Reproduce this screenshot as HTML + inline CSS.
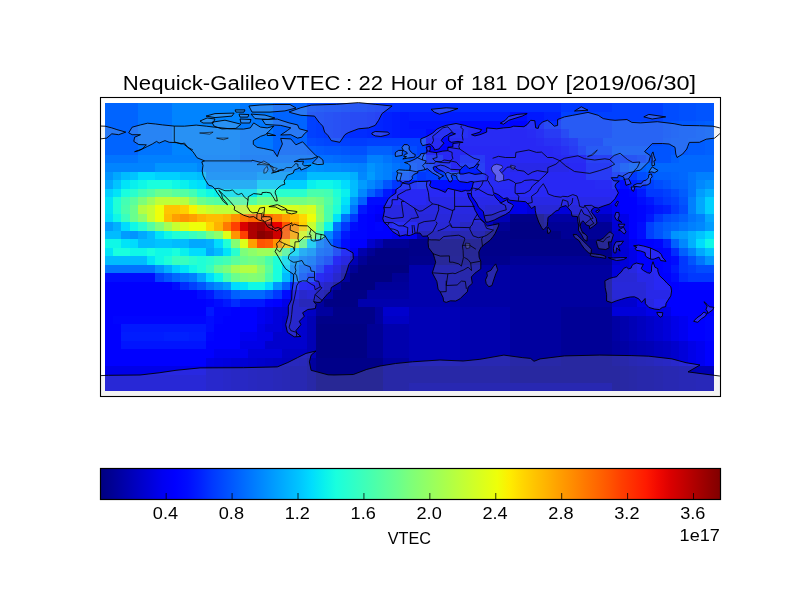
<!DOCTYPE html>
<html><head><meta charset="utf-8"><style>
html,body{margin:0;padding:0;background:#fff;width:800px;height:600px;overflow:hidden}
svg{display:block}
text{font-family:"Liberation Sans",sans-serif;fill:#000}
</style></head><body>
<div style="will-change:transform;width:800px;height:600px"><svg width="800" height="600" viewBox="0 0 800 600">
<defs><linearGradient id="jet" x1="0" y1="0" x2="1" y2="0">
<stop offset="0%" stop-color="#000080"/>
<stop offset="2%" stop-color="#000096"/>
<stop offset="4%" stop-color="#0000ad"/>
<stop offset="6%" stop-color="#0000c4"/>
<stop offset="8%" stop-color="#0000da"/>
<stop offset="10%" stop-color="#0000f1"/>
<stop offset="12%" stop-color="#0000ff"/>
<stop offset="14%" stop-color="#000cff"/>
<stop offset="16%" stop-color="#0020ff"/>
<stop offset="18%" stop-color="#0038ff"/>
<stop offset="20%" stop-color="#004cff"/>
<stop offset="22%" stop-color="#0060ff"/>
<stop offset="24%" stop-color="#0074ff"/>
<stop offset="26%" stop-color="#0088ff"/>
<stop offset="28%" stop-color="#009cff"/>
<stop offset="30%" stop-color="#00b0ff"/>
<stop offset="32%" stop-color="#00c4ff"/>
<stop offset="34%" stop-color="#00dcfe"/>
<stop offset="36%" stop-color="#09f0ee"/>
<stop offset="38%" stop-color="#19ffde"/>
<stop offset="40%" stop-color="#29ffce"/>
<stop offset="42%" stop-color="#39ffbe"/>
<stop offset="44%" stop-color="#49ffad"/>
<stop offset="46%" stop-color="#5aff9d"/>
<stop offset="48%" stop-color="#6aff8d"/>
<stop offset="50%" stop-color="#7dff7a"/>
<stop offset="52%" stop-color="#8dff6a"/>
<stop offset="54%" stop-color="#9dff5a"/>
<stop offset="56%" stop-color="#adff49"/>
<stop offset="58%" stop-color="#beff39"/>
<stop offset="60%" stop-color="#ceff29"/>
<stop offset="62%" stop-color="#deff19"/>
<stop offset="64%" stop-color="#eeff09"/>
<stop offset="66%" stop-color="#feed00"/>
<stop offset="68%" stop-color="#ffd700"/>
<stop offset="70%" stop-color="#ffc400"/>
<stop offset="72%" stop-color="#ffb200"/>
<stop offset="74%" stop-color="#ff9f00"/>
<stop offset="76%" stop-color="#ff8d00"/>
<stop offset="78%" stop-color="#ff7a00"/>
<stop offset="80%" stop-color="#ff6800"/>
<stop offset="82%" stop-color="#ff5500"/>
<stop offset="84%" stop-color="#ff3f00"/>
<stop offset="86%" stop-color="#ff2d00"/>
<stop offset="88%" stop-color="#ff1a00"/>
<stop offset="90%" stop-color="#f10800"/>
<stop offset="92%" stop-color="#da0000"/>
<stop offset="94%" stop-color="#c40000"/>
<stop offset="96%" stop-color="#ad0000"/>
<stop offset="98%" stop-color="#960000"/>
<stop offset="100%" stop-color="#800000"/>
</linearGradient>
<clipPath id="ax"><rect x="100.5" y="97.5" width="620" height="299"/></clipPath>
</defs>
<rect width="800" height="600" fill="#fff"/>
<g shape-rendering="crispEdges">
<rect x="105.00" y="103.00" width="33.43" height="9.57" fill="#0064ff"/>
<rect x="138.13" y="103.00" width="34.13" height="9.57" fill="#0074ff"/>
<rect x="171.96" y="103.00" width="67.96" height="9.57" fill="#0084ff"/>
<rect x="239.63" y="103.00" width="34.13" height="9.57" fill="#0078ff"/>
<rect x="273.46" y="103.00" width="34.13" height="9.57" fill="#0064ff"/>
<rect x="307.29" y="103.00" width="8.76" height="9.57" fill="#004cff"/>
<rect x="315.75" y="103.00" width="8.76" height="9.57" fill="#0048ff"/>
<rect x="324.21" y="103.00" width="17.22" height="9.57" fill="#0044ff"/>
<rect x="341.12" y="103.00" width="8.76" height="9.57" fill="#0040ff"/>
<rect x="349.58" y="103.00" width="17.22" height="9.57" fill="#003cff"/>
<rect x="366.50" y="103.00" width="8.76" height="9.57" fill="#0038ff"/>
<rect x="374.96" y="103.00" width="8.76" height="9.57" fill="#0034ff"/>
<rect x="383.41" y="103.00" width="17.22" height="9.57" fill="#0030ff"/>
<rect x="400.33" y="103.00" width="161.00" height="9.57" fill="#002cff"/>
<rect x="561.03" y="103.00" width="51.05" height="9.57" fill="#0038ff"/>
<rect x="611.78" y="103.00" width="51.05" height="9.57" fill="#0040ff"/>
<rect x="662.53" y="103.00" width="17.22" height="9.57" fill="#004cff"/>
<rect x="679.44" y="103.00" width="17.22" height="9.57" fill="#0050ff"/>
<rect x="696.36" y="103.00" width="17.64" height="9.57" fill="#0054ff"/>
<rect x="105.00" y="112.27" width="33.43" height="8.77" fill="#0064ff"/>
<rect x="138.13" y="112.27" width="34.13" height="8.77" fill="#0074ff"/>
<rect x="171.96" y="112.27" width="67.96" height="8.77" fill="#0084ff"/>
<rect x="239.63" y="112.27" width="34.13" height="8.77" fill="#0078ff"/>
<rect x="273.46" y="112.27" width="34.13" height="8.77" fill="#0064ff"/>
<rect x="307.29" y="112.27" width="8.76" height="8.77" fill="#0040ff"/>
<rect x="315.75" y="112.27" width="8.76" height="8.77" fill="#003cff"/>
<rect x="324.21" y="112.27" width="8.76" height="8.77" fill="#0038ff"/>
<rect x="332.67" y="112.27" width="8.76" height="8.77" fill="#0034ff"/>
<rect x="341.12" y="112.27" width="8.76" height="8.77" fill="#0030ff"/>
<rect x="349.58" y="112.27" width="17.22" height="8.77" fill="#002cff"/>
<rect x="366.50" y="112.27" width="8.76" height="8.77" fill="#0028ff"/>
<rect x="374.96" y="112.27" width="8.76" height="8.77" fill="#0024ff"/>
<rect x="383.41" y="112.27" width="8.76" height="8.77" fill="#0020ff"/>
<rect x="391.87" y="112.27" width="8.76" height="8.77" fill="#001cff"/>
<rect x="400.33" y="112.27" width="8.76" height="8.77" fill="#0018ff"/>
<rect x="408.79" y="112.27" width="101.80" height="8.77" fill="#001cff"/>
<rect x="510.28" y="112.27" width="17.22" height="8.77" fill="#000cff"/>
<rect x="527.20" y="112.27" width="17.22" height="8.77" fill="#0018ff"/>
<rect x="544.12" y="112.27" width="17.22" height="8.77" fill="#0020ff"/>
<rect x="561.03" y="112.27" width="101.80" height="8.77" fill="#0040ff"/>
<rect x="662.53" y="112.27" width="17.22" height="8.77" fill="#004cff"/>
<rect x="679.44" y="112.27" width="17.22" height="8.77" fill="#0050ff"/>
<rect x="696.36" y="112.27" width="17.64" height="8.77" fill="#0054ff"/>
<rect x="105.00" y="120.74" width="33.43" height="8.77" fill="#0064ff"/>
<rect x="138.13" y="120.74" width="34.13" height="8.77" fill="#0074ff"/>
<rect x="171.96" y="120.74" width="67.96" height="8.77" fill="#0084ff"/>
<rect x="239.63" y="120.74" width="34.13" height="8.77" fill="#0078ff"/>
<rect x="273.46" y="120.74" width="34.13" height="8.77" fill="#0064ff"/>
<rect x="307.29" y="120.74" width="8.76" height="8.77" fill="#0040ff"/>
<rect x="315.75" y="120.74" width="8.76" height="8.77" fill="#003cff"/>
<rect x="324.21" y="120.74" width="8.76" height="8.77" fill="#0038ff"/>
<rect x="332.67" y="120.74" width="8.76" height="8.77" fill="#0034ff"/>
<rect x="341.12" y="120.74" width="8.76" height="8.77" fill="#0030ff"/>
<rect x="349.58" y="120.74" width="17.22" height="8.77" fill="#002cff"/>
<rect x="366.50" y="120.74" width="8.76" height="8.77" fill="#0028ff"/>
<rect x="374.96" y="120.74" width="8.76" height="8.77" fill="#0024ff"/>
<rect x="383.41" y="120.74" width="8.76" height="8.77" fill="#0020ff"/>
<rect x="391.87" y="120.74" width="8.76" height="8.77" fill="#001cff"/>
<rect x="400.33" y="120.74" width="8.76" height="8.77" fill="#0018ff"/>
<rect x="408.79" y="120.74" width="51.05" height="8.77" fill="#0014ff"/>
<rect x="459.54" y="120.74" width="51.05" height="8.77" fill="#0008ff"/>
<rect x="510.28" y="120.74" width="17.22" height="8.77" fill="#0004ff"/>
<rect x="527.20" y="120.74" width="8.76" height="8.77" fill="#000cff"/>
<rect x="535.66" y="120.74" width="8.76" height="8.77" fill="#0018ff"/>
<rect x="544.12" y="120.74" width="17.22" height="8.77" fill="#002cff"/>
<rect x="561.03" y="120.74" width="51.05" height="8.77" fill="#0040ff"/>
<rect x="611.78" y="120.74" width="51.05" height="8.77" fill="#004cff"/>
<rect x="662.53" y="120.74" width="8.76" height="8.77" fill="#0050ff"/>
<rect x="670.99" y="120.74" width="8.76" height="8.77" fill="#0054ff"/>
<rect x="679.44" y="120.74" width="17.22" height="8.77" fill="#0058ff"/>
<rect x="696.36" y="120.74" width="8.76" height="8.77" fill="#005cff"/>
<rect x="704.82" y="120.74" width="9.18" height="8.77" fill="#0060ff"/>
<rect x="105.00" y="129.21" width="33.43" height="8.77" fill="#0064ff"/>
<rect x="138.13" y="129.21" width="34.13" height="8.77" fill="#0074ff"/>
<rect x="171.96" y="129.21" width="67.96" height="8.77" fill="#0084ff"/>
<rect x="239.63" y="129.21" width="34.13" height="8.77" fill="#0078ff"/>
<rect x="273.46" y="129.21" width="34.13" height="8.77" fill="#0064ff"/>
<rect x="307.29" y="129.21" width="8.76" height="8.77" fill="#0040ff"/>
<rect x="315.75" y="129.21" width="8.76" height="8.77" fill="#003cff"/>
<rect x="324.21" y="129.21" width="8.76" height="8.77" fill="#0038ff"/>
<rect x="332.67" y="129.21" width="8.76" height="8.77" fill="#0034ff"/>
<rect x="341.12" y="129.21" width="8.76" height="8.77" fill="#0030ff"/>
<rect x="349.58" y="129.21" width="17.22" height="8.77" fill="#002cff"/>
<rect x="366.50" y="129.21" width="8.76" height="8.77" fill="#0028ff"/>
<rect x="374.96" y="129.21" width="8.76" height="8.77" fill="#0024ff"/>
<rect x="383.41" y="129.21" width="8.76" height="8.77" fill="#0020ff"/>
<rect x="391.87" y="129.21" width="8.76" height="8.77" fill="#001cff"/>
<rect x="400.33" y="129.21" width="25.67" height="8.77" fill="#0018ff"/>
<rect x="425.70" y="129.21" width="42.59" height="8.77" fill="#000cff"/>
<rect x="467.99" y="129.21" width="42.59" height="8.77" fill="#0004ff"/>
<rect x="510.28" y="129.21" width="17.22" height="8.77" fill="#0000ff"/>
<rect x="527.20" y="129.21" width="8.76" height="8.77" fill="#0004ff"/>
<rect x="535.66" y="129.21" width="8.76" height="8.77" fill="#000cff"/>
<rect x="544.12" y="129.21" width="17.22" height="8.77" fill="#0018ff"/>
<rect x="561.03" y="129.21" width="8.76" height="8.77" fill="#002cff"/>
<rect x="569.49" y="129.21" width="42.59" height="8.77" fill="#0040ff"/>
<rect x="611.78" y="129.21" width="51.05" height="8.77" fill="#004cff"/>
<rect x="662.53" y="129.21" width="8.76" height="8.77" fill="#0050ff"/>
<rect x="670.99" y="129.21" width="8.76" height="8.77" fill="#0054ff"/>
<rect x="679.44" y="129.21" width="17.22" height="8.77" fill="#0058ff"/>
<rect x="696.36" y="129.21" width="8.76" height="8.77" fill="#005cff"/>
<rect x="704.82" y="129.21" width="9.18" height="8.77" fill="#0060ff"/>
<rect x="105.00" y="137.68" width="33.43" height="8.77" fill="#0064ff"/>
<rect x="138.13" y="137.68" width="34.13" height="8.77" fill="#0074ff"/>
<rect x="171.96" y="137.68" width="67.96" height="8.77" fill="#0084ff"/>
<rect x="239.63" y="137.68" width="34.13" height="8.77" fill="#0078ff"/>
<rect x="273.46" y="137.68" width="34.13" height="8.77" fill="#0064ff"/>
<rect x="307.29" y="137.68" width="8.76" height="8.77" fill="#004cff"/>
<rect x="315.75" y="137.68" width="8.76" height="8.77" fill="#0048ff"/>
<rect x="324.21" y="137.68" width="17.22" height="8.77" fill="#0044ff"/>
<rect x="341.12" y="137.68" width="8.76" height="8.77" fill="#0040ff"/>
<rect x="349.58" y="137.68" width="17.22" height="8.77" fill="#003cff"/>
<rect x="366.50" y="137.68" width="59.51" height="8.77" fill="#0040ff"/>
<rect x="425.70" y="137.68" width="84.88" height="8.77" fill="#0004ff"/>
<rect x="510.28" y="137.68" width="25.67" height="8.77" fill="#0000ff"/>
<rect x="535.66" y="137.68" width="8.76" height="8.77" fill="#0004ff"/>
<rect x="544.12" y="137.68" width="17.22" height="8.77" fill="#000cff"/>
<rect x="561.03" y="137.68" width="8.76" height="8.77" fill="#0018ff"/>
<rect x="569.49" y="137.68" width="8.76" height="8.77" fill="#0020ff"/>
<rect x="577.95" y="137.68" width="25.67" height="8.77" fill="#0038ff"/>
<rect x="603.32" y="137.68" width="59.51" height="8.77" fill="#004cff"/>
<rect x="662.53" y="137.68" width="8.76" height="8.77" fill="#0054ff"/>
<rect x="670.99" y="137.68" width="17.22" height="8.77" fill="#0058ff"/>
<rect x="687.90" y="137.68" width="17.22" height="8.77" fill="#005cff"/>
<rect x="704.82" y="137.68" width="9.18" height="8.77" fill="#0060ff"/>
<rect x="105.00" y="146.15" width="33.43" height="8.77" fill="#0064ff"/>
<rect x="138.13" y="146.15" width="34.13" height="8.77" fill="#0074ff"/>
<rect x="171.96" y="146.15" width="67.96" height="8.77" fill="#0084ff"/>
<rect x="239.63" y="146.15" width="34.13" height="8.77" fill="#0078ff"/>
<rect x="273.46" y="146.15" width="34.13" height="8.77" fill="#0064ff"/>
<rect x="307.29" y="146.15" width="8.76" height="8.77" fill="#0060ff"/>
<rect x="315.75" y="146.15" width="8.76" height="8.77" fill="#005cff"/>
<rect x="324.21" y="146.15" width="17.22" height="8.77" fill="#0058ff"/>
<rect x="341.12" y="146.15" width="8.76" height="8.77" fill="#0054ff"/>
<rect x="349.58" y="146.15" width="17.22" height="8.77" fill="#0050ff"/>
<rect x="366.50" y="146.15" width="25.67" height="8.77" fill="#0060ff"/>
<rect x="391.87" y="146.15" width="17.22" height="8.77" fill="#0054ff"/>
<rect x="408.79" y="146.15" width="8.76" height="8.77" fill="#004cff"/>
<rect x="417.25" y="146.15" width="8.76" height="8.77" fill="#0040ff"/>
<rect x="425.70" y="146.15" width="127.17" height="8.77" fill="#0000ff"/>
<rect x="552.57" y="146.15" width="8.76" height="8.77" fill="#0004ff"/>
<rect x="561.03" y="146.15" width="8.76" height="8.77" fill="#000cff"/>
<rect x="569.49" y="146.15" width="8.76" height="8.77" fill="#0018ff"/>
<rect x="577.95" y="146.15" width="8.76" height="8.77" fill="#002cff"/>
<rect x="586.41" y="146.15" width="25.67" height="8.77" fill="#0040ff"/>
<rect x="611.78" y="146.15" width="59.51" height="8.77" fill="#0054ff"/>
<rect x="670.99" y="146.15" width="17.22" height="8.77" fill="#0058ff"/>
<rect x="687.90" y="146.15" width="17.22" height="8.77" fill="#005cff"/>
<rect x="704.82" y="146.15" width="9.18" height="8.77" fill="#0060ff"/>
<rect x="105.00" y="154.62" width="33.43" height="8.77" fill="#0074ff"/>
<rect x="138.13" y="154.62" width="101.80" height="8.77" fill="#0080ff"/>
<rect x="239.63" y="154.62" width="76.42" height="8.77" fill="#0074ff"/>
<rect x="315.75" y="154.62" width="17.22" height="8.77" fill="#0070ff"/>
<rect x="332.67" y="154.62" width="8.76" height="8.77" fill="#006cff"/>
<rect x="341.12" y="154.62" width="8.76" height="8.77" fill="#0068ff"/>
<rect x="349.58" y="154.62" width="17.22" height="8.77" fill="#0064ff"/>
<rect x="366.50" y="154.62" width="17.22" height="8.77" fill="#0080ff"/>
<rect x="383.41" y="154.62" width="8.76" height="8.77" fill="#0074ff"/>
<rect x="391.87" y="154.62" width="8.76" height="8.77" fill="#0068ff"/>
<rect x="400.33" y="154.62" width="8.76" height="8.77" fill="#0060ff"/>
<rect x="408.79" y="154.62" width="17.22" height="8.77" fill="#004cff"/>
<rect x="425.70" y="154.62" width="17.22" height="8.77" fill="#0020ff"/>
<rect x="442.62" y="154.62" width="17.22" height="8.77" fill="#0000ff"/>
<rect x="459.54" y="154.62" width="25.67" height="8.77" fill="#0018ff"/>
<rect x="484.91" y="154.62" width="76.42" height="8.77" fill="#0000ff"/>
<rect x="561.03" y="154.62" width="25.67" height="8.77" fill="#0004ff"/>
<rect x="586.41" y="154.62" width="25.67" height="8.77" fill="#0020ff"/>
<rect x="611.78" y="154.62" width="25.67" height="8.77" fill="#0038ff"/>
<rect x="637.15" y="154.62" width="8.76" height="8.77" fill="#0040ff"/>
<rect x="645.61" y="154.62" width="8.76" height="8.77" fill="#004cff"/>
<rect x="654.07" y="154.62" width="17.22" height="8.77" fill="#0054ff"/>
<rect x="670.99" y="154.62" width="8.76" height="8.77" fill="#0060ff"/>
<rect x="679.44" y="154.62" width="34.56" height="8.77" fill="#0068ff"/>
<rect x="105.00" y="163.09" width="50.35" height="8.77" fill="#0084ff"/>
<rect x="155.05" y="163.09" width="42.59" height="8.77" fill="#0094ff"/>
<rect x="197.34" y="163.09" width="8.76" height="8.77" fill="#0088ff"/>
<rect x="205.80" y="163.09" width="101.80" height="8.77" fill="#0084ff"/>
<rect x="307.29" y="163.09" width="8.76" height="8.77" fill="#0094ff"/>
<rect x="315.75" y="163.09" width="8.76" height="8.77" fill="#0090ff"/>
<rect x="324.21" y="163.09" width="17.22" height="8.77" fill="#008cff"/>
<rect x="341.12" y="163.09" width="8.76" height="8.77" fill="#0088ff"/>
<rect x="349.58" y="163.09" width="8.76" height="8.77" fill="#0084ff"/>
<rect x="358.04" y="163.09" width="8.76" height="8.77" fill="#0080ff"/>
<rect x="366.50" y="163.09" width="8.76" height="8.77" fill="#0094ff"/>
<rect x="374.96" y="163.09" width="8.76" height="8.77" fill="#0088ff"/>
<rect x="383.41" y="163.09" width="8.76" height="8.77" fill="#0080ff"/>
<rect x="391.87" y="163.09" width="8.76" height="8.77" fill="#0074ff"/>
<rect x="400.33" y="163.09" width="8.76" height="8.77" fill="#0068ff"/>
<rect x="408.79" y="163.09" width="8.76" height="8.77" fill="#0054ff"/>
<rect x="417.25" y="163.09" width="8.76" height="8.77" fill="#004cff"/>
<rect x="425.70" y="163.09" width="8.76" height="8.77" fill="#0038ff"/>
<rect x="434.16" y="163.09" width="17.22" height="8.77" fill="#0018ff"/>
<rect x="451.08" y="163.09" width="8.76" height="8.77" fill="#0000ff"/>
<rect x="459.54" y="163.09" width="25.67" height="8.77" fill="#0020ff"/>
<rect x="484.91" y="163.09" width="25.67" height="8.77" fill="#0000ff"/>
<rect x="510.28" y="163.09" width="59.51" height="8.77" fill="#0000f1"/>
<rect x="569.49" y="163.09" width="17.22" height="8.77" fill="#0000ff"/>
<rect x="586.41" y="163.09" width="25.67" height="8.77" fill="#0018ff"/>
<rect x="611.78" y="163.09" width="8.76" height="8.77" fill="#0040ff"/>
<rect x="620.24" y="163.09" width="8.76" height="8.77" fill="#0054ff"/>
<rect x="628.70" y="163.09" width="17.22" height="8.77" fill="#0060ff"/>
<rect x="645.61" y="163.09" width="68.39" height="8.77" fill="#0068ff"/>
<rect x="105.00" y="171.56" width="8.06" height="8.77" fill="#0094ff"/>
<rect x="112.76" y="171.56" width="8.76" height="8.77" fill="#00a8ff"/>
<rect x="121.22" y="171.56" width="8.76" height="8.77" fill="#00bcff"/>
<rect x="129.67" y="171.56" width="8.76" height="8.77" fill="#00c4ff"/>
<rect x="138.13" y="171.56" width="17.22" height="8.77" fill="#00dcfe"/>
<rect x="155.05" y="171.56" width="25.67" height="8.77" fill="#00d0ff"/>
<rect x="180.42" y="171.56" width="17.22" height="8.77" fill="#00c4ff"/>
<rect x="197.34" y="171.56" width="8.76" height="8.77" fill="#00bcff"/>
<rect x="205.80" y="171.56" width="51.05" height="8.77" fill="#008cff"/>
<rect x="256.54" y="171.56" width="51.05" height="8.77" fill="#009cff"/>
<rect x="307.29" y="171.56" width="42.59" height="8.77" fill="#00bcff"/>
<rect x="349.58" y="171.56" width="8.76" height="8.77" fill="#00b0ff"/>
<rect x="358.04" y="171.56" width="8.76" height="8.77" fill="#0088ff"/>
<rect x="366.50" y="171.56" width="8.76" height="8.77" fill="#009cff"/>
<rect x="374.96" y="171.56" width="8.76" height="8.77" fill="#0088ff"/>
<rect x="383.41" y="171.56" width="8.76" height="8.77" fill="#0080ff"/>
<rect x="391.87" y="171.56" width="8.76" height="8.77" fill="#0068ff"/>
<rect x="400.33" y="171.56" width="8.76" height="8.77" fill="#0054ff"/>
<rect x="408.79" y="171.56" width="8.76" height="8.77" fill="#004cff"/>
<rect x="417.25" y="171.56" width="8.76" height="8.77" fill="#0038ff"/>
<rect x="425.70" y="171.56" width="34.13" height="8.77" fill="#0040ff"/>
<rect x="459.54" y="171.56" width="25.67" height="8.77" fill="#0018ff"/>
<rect x="484.91" y="171.56" width="101.80" height="8.77" fill="#0000ff"/>
<rect x="586.41" y="171.56" width="25.67" height="8.77" fill="#0018ff"/>
<rect x="611.78" y="171.56" width="8.76" height="8.77" fill="#002cff"/>
<rect x="620.24" y="171.56" width="17.22" height="8.77" fill="#0038ff"/>
<rect x="637.15" y="171.56" width="8.76" height="8.77" fill="#004cff"/>
<rect x="645.61" y="171.56" width="8.76" height="8.77" fill="#0054ff"/>
<rect x="654.07" y="171.56" width="17.22" height="8.77" fill="#0060ff"/>
<rect x="670.99" y="171.56" width="8.76" height="8.77" fill="#0064ff"/>
<rect x="679.44" y="171.56" width="8.76" height="8.77" fill="#0068ff"/>
<rect x="687.90" y="171.56" width="8.76" height="8.77" fill="#0074ff"/>
<rect x="696.36" y="171.56" width="17.64" height="8.77" fill="#0080ff"/>
<rect x="105.00" y="180.03" width="8.06" height="8.77" fill="#00a8ff"/>
<rect x="112.76" y="180.03" width="8.76" height="8.77" fill="#00c4ff"/>
<rect x="121.22" y="180.03" width="8.76" height="8.77" fill="#00e4f8"/>
<rect x="129.67" y="180.03" width="8.76" height="8.77" fill="#09f0ee"/>
<rect x="138.13" y="180.03" width="8.76" height="8.77" fill="#0ff8e7"/>
<rect x="146.59" y="180.03" width="25.67" height="8.77" fill="#19ffde"/>
<rect x="171.96" y="180.03" width="8.76" height="8.77" fill="#0ff8e7"/>
<rect x="180.42" y="180.03" width="8.76" height="8.77" fill="#09f0ee"/>
<rect x="188.88" y="180.03" width="8.76" height="8.77" fill="#00e4f8"/>
<rect x="197.34" y="180.03" width="8.76" height="8.77" fill="#00dcfe"/>
<rect x="205.80" y="180.03" width="51.05" height="8.77" fill="#00a8ff"/>
<rect x="256.54" y="180.03" width="51.05" height="8.77" fill="#00d0ff"/>
<rect x="307.29" y="180.03" width="8.76" height="8.77" fill="#09f0ee"/>
<rect x="315.75" y="180.03" width="17.22" height="8.77" fill="#0ff8e7"/>
<rect x="332.67" y="180.03" width="8.76" height="8.77" fill="#09f0ee"/>
<rect x="341.12" y="180.03" width="8.76" height="8.77" fill="#00dcfe"/>
<rect x="349.58" y="180.03" width="8.76" height="8.77" fill="#00bcff"/>
<rect x="358.04" y="180.03" width="8.76" height="8.77" fill="#009cff"/>
<rect x="366.50" y="180.03" width="8.76" height="8.77" fill="#0088ff"/>
<rect x="374.96" y="180.03" width="8.76" height="8.77" fill="#0074ff"/>
<rect x="383.41" y="180.03" width="8.76" height="8.77" fill="#0054ff"/>
<rect x="391.87" y="180.03" width="8.76" height="8.77" fill="#0038ff"/>
<rect x="400.33" y="180.03" width="17.22" height="8.77" fill="#0018ff"/>
<rect x="417.25" y="180.03" width="8.76" height="8.77" fill="#0020ff"/>
<rect x="425.70" y="180.03" width="51.05" height="8.77" fill="#000cff"/>
<rect x="476.45" y="180.03" width="34.13" height="8.77" fill="#0004ff"/>
<rect x="510.28" y="180.03" width="84.88" height="8.77" fill="#0000ff"/>
<rect x="594.86" y="180.03" width="17.22" height="8.77" fill="#0004ff"/>
<rect x="611.78" y="180.03" width="8.76" height="8.77" fill="#0018ff"/>
<rect x="620.24" y="180.03" width="8.76" height="8.77" fill="#000cff"/>
<rect x="628.70" y="180.03" width="8.76" height="8.77" fill="#0020ff"/>
<rect x="637.15" y="180.03" width="8.76" height="8.77" fill="#002cff"/>
<rect x="645.61" y="180.03" width="8.76" height="8.77" fill="#0040ff"/>
<rect x="654.07" y="180.03" width="8.76" height="8.77" fill="#004cff"/>
<rect x="662.53" y="180.03" width="8.76" height="8.77" fill="#0054ff"/>
<rect x="670.99" y="180.03" width="8.76" height="8.77" fill="#0060ff"/>
<rect x="679.44" y="180.03" width="8.76" height="8.77" fill="#0064ff"/>
<rect x="687.90" y="180.03" width="8.76" height="8.77" fill="#0074ff"/>
<rect x="696.36" y="180.03" width="8.76" height="8.77" fill="#0088ff"/>
<rect x="704.82" y="180.03" width="9.18" height="8.77" fill="#0094ff"/>
<rect x="105.00" y="188.50" width="8.06" height="8.77" fill="#00d0ff"/>
<rect x="112.76" y="188.50" width="8.76" height="8.77" fill="#00e4f8"/>
<rect x="121.22" y="188.50" width="8.76" height="8.77" fill="#19ffde"/>
<rect x="129.67" y="188.50" width="8.76" height="8.77" fill="#29ffce"/>
<rect x="138.13" y="188.50" width="8.76" height="8.77" fill="#43ffb4"/>
<rect x="146.59" y="188.50" width="8.76" height="8.77" fill="#53ffa4"/>
<rect x="155.05" y="188.50" width="17.22" height="8.77" fill="#6aff8d"/>
<rect x="171.96" y="188.50" width="8.76" height="8.77" fill="#5aff9d"/>
<rect x="180.42" y="188.50" width="8.76" height="8.77" fill="#53ffa4"/>
<rect x="188.88" y="188.50" width="8.76" height="8.77" fill="#43ffb4"/>
<rect x="197.34" y="188.50" width="8.76" height="8.77" fill="#1fffd7"/>
<rect x="205.80" y="188.50" width="8.76" height="8.77" fill="#0ff8e7"/>
<rect x="214.25" y="188.50" width="8.76" height="8.77" fill="#09f0ee"/>
<rect x="222.71" y="188.50" width="34.13" height="8.77" fill="#00e4f8"/>
<rect x="256.54" y="188.50" width="51.05" height="8.77" fill="#29ffce"/>
<rect x="307.29" y="188.50" width="17.22" height="8.77" fill="#49ffad"/>
<rect x="324.21" y="188.50" width="8.76" height="8.77" fill="#43ffb4"/>
<rect x="332.67" y="188.50" width="8.76" height="8.77" fill="#1fffd7"/>
<rect x="341.12" y="188.50" width="8.76" height="8.77" fill="#09f0ee"/>
<rect x="349.58" y="188.50" width="8.76" height="8.77" fill="#00bcff"/>
<rect x="358.04" y="188.50" width="8.76" height="8.77" fill="#0088ff"/>
<rect x="366.50" y="188.50" width="8.76" height="8.77" fill="#0060ff"/>
<rect x="374.96" y="188.50" width="8.76" height="8.77" fill="#0040ff"/>
<rect x="383.41" y="188.50" width="8.76" height="8.77" fill="#0018ff"/>
<rect x="391.87" y="188.50" width="8.76" height="8.77" fill="#0004ff"/>
<rect x="400.33" y="188.50" width="228.67" height="8.77" fill="#0000ff"/>
<rect x="628.70" y="188.50" width="8.76" height="8.77" fill="#0004ff"/>
<rect x="637.15" y="188.50" width="8.76" height="8.77" fill="#0018ff"/>
<rect x="645.61" y="188.50" width="17.22" height="8.77" fill="#0038ff"/>
<rect x="662.53" y="188.50" width="8.76" height="8.77" fill="#0040ff"/>
<rect x="670.99" y="188.50" width="8.76" height="8.77" fill="#004cff"/>
<rect x="679.44" y="188.50" width="8.76" height="8.77" fill="#005cff"/>
<rect x="687.90" y="188.50" width="8.76" height="8.77" fill="#0074ff"/>
<rect x="696.36" y="188.50" width="8.76" height="8.77" fill="#009cff"/>
<rect x="704.82" y="188.50" width="9.18" height="8.77" fill="#00b0ff"/>
<rect x="105.00" y="196.97" width="8.06" height="8.77" fill="#00e4f8"/>
<rect x="112.76" y="196.97" width="8.76" height="8.77" fill="#1fffd7"/>
<rect x="121.22" y="196.97" width="8.76" height="8.77" fill="#43ffb4"/>
<rect x="129.67" y="196.97" width="8.76" height="8.77" fill="#5aff9d"/>
<rect x="138.13" y="196.97" width="8.76" height="8.77" fill="#7dff7a"/>
<rect x="146.59" y="196.97" width="8.76" height="8.77" fill="#9dff5a"/>
<rect x="155.05" y="196.97" width="25.67" height="8.77" fill="#beff39"/>
<rect x="180.42" y="196.97" width="8.76" height="8.77" fill="#b4ff43"/>
<rect x="188.88" y="196.97" width="8.76" height="8.77" fill="#8dff6a"/>
<rect x="197.34" y="196.97" width="8.76" height="8.77" fill="#6aff8d"/>
<rect x="205.80" y="196.97" width="8.76" height="8.77" fill="#5aff9d"/>
<rect x="214.25" y="196.97" width="8.76" height="8.77" fill="#53ffa4"/>
<rect x="222.71" y="196.97" width="8.76" height="8.77" fill="#49ffad"/>
<rect x="231.17" y="196.97" width="25.67" height="8.77" fill="#53ffa4"/>
<rect x="256.54" y="196.97" width="51.05" height="8.77" fill="#73ff83"/>
<rect x="307.29" y="196.97" width="8.76" height="8.77" fill="#7dff7a"/>
<rect x="315.75" y="196.97" width="8.76" height="8.77" fill="#73ff83"/>
<rect x="324.21" y="196.97" width="8.76" height="8.77" fill="#53ffa4"/>
<rect x="332.67" y="196.97" width="8.76" height="8.77" fill="#29ffce"/>
<rect x="341.12" y="196.97" width="8.76" height="8.77" fill="#00e4f8"/>
<rect x="349.58" y="196.97" width="8.76" height="8.77" fill="#0094ff"/>
<rect x="358.04" y="196.97" width="8.76" height="8.77" fill="#0060ff"/>
<rect x="366.50" y="196.97" width="25.67" height="8.77" fill="#000cff"/>
<rect x="391.87" y="196.97" width="34.13" height="8.77" fill="#0000ff"/>
<rect x="425.70" y="196.97" width="84.88" height="8.77" fill="#0000f1"/>
<rect x="510.28" y="196.97" width="51.05" height="8.77" fill="#0000ed"/>
<rect x="561.03" y="196.97" width="51.05" height="8.77" fill="#0000f1"/>
<rect x="611.78" y="196.97" width="25.67" height="8.77" fill="#0000ff"/>
<rect x="637.15" y="196.97" width="8.76" height="8.77" fill="#000cff"/>
<rect x="645.61" y="196.97" width="8.76" height="8.77" fill="#0018ff"/>
<rect x="654.07" y="196.97" width="8.76" height="8.77" fill="#002cff"/>
<rect x="662.53" y="196.97" width="8.76" height="8.77" fill="#0038ff"/>
<rect x="670.99" y="196.97" width="8.76" height="8.77" fill="#0040ff"/>
<rect x="679.44" y="196.97" width="8.76" height="8.77" fill="#0054ff"/>
<rect x="687.90" y="196.97" width="8.76" height="8.77" fill="#0080ff"/>
<rect x="696.36" y="196.97" width="8.76" height="8.77" fill="#00a8ff"/>
<rect x="704.82" y="196.97" width="9.18" height="8.77" fill="#00d0ff"/>
<rect x="105.00" y="205.44" width="8.06" height="8.77" fill="#00e4f8"/>
<rect x="112.76" y="205.44" width="8.76" height="8.77" fill="#1fffd7"/>
<rect x="121.22" y="205.44" width="8.76" height="8.77" fill="#49ffad"/>
<rect x="129.67" y="205.44" width="8.76" height="8.77" fill="#6aff8d"/>
<rect x="138.13" y="205.44" width="8.76" height="8.77" fill="#b4ff43"/>
<rect x="146.59" y="205.44" width="8.76" height="8.77" fill="#c7ff30"/>
<rect x="155.05" y="205.44" width="8.76" height="8.77" fill="#eeff09"/>
<rect x="163.51" y="205.44" width="17.22" height="8.77" fill="#ffc400"/>
<rect x="180.42" y="205.44" width="8.76" height="8.77" fill="#ffd000"/>
<rect x="188.88" y="205.44" width="8.76" height="8.77" fill="#f8f500"/>
<rect x="197.34" y="205.44" width="8.76" height="8.77" fill="#d7ff1f"/>
<rect x="205.80" y="205.44" width="8.76" height="8.77" fill="#c7ff30"/>
<rect x="214.25" y="205.44" width="25.67" height="8.77" fill="#beff39"/>
<rect x="239.63" y="205.44" width="8.76" height="8.77" fill="#c7ff30"/>
<rect x="248.09" y="205.44" width="8.76" height="8.77" fill="#d7ff1f"/>
<rect x="256.54" y="205.44" width="25.67" height="8.77" fill="#deff19"/>
<rect x="281.92" y="205.44" width="17.22" height="8.77" fill="#d7ff1f"/>
<rect x="298.83" y="205.44" width="8.76" height="8.77" fill="#ceff29"/>
<rect x="307.29" y="205.44" width="8.76" height="8.77" fill="#d7ff1f"/>
<rect x="315.75" y="205.44" width="8.76" height="8.77" fill="#8dff6a"/>
<rect x="324.21" y="205.44" width="8.76" height="8.77" fill="#49ffad"/>
<rect x="332.67" y="205.44" width="8.76" height="8.77" fill="#1fffd7"/>
<rect x="341.12" y="205.44" width="8.76" height="8.77" fill="#00d0ff"/>
<rect x="349.58" y="205.44" width="8.76" height="8.77" fill="#0074ff"/>
<rect x="358.04" y="205.44" width="8.76" height="8.77" fill="#0018ff"/>
<rect x="366.50" y="205.44" width="8.76" height="8.77" fill="#0004ff"/>
<rect x="374.96" y="205.44" width="8.76" height="8.77" fill="#0000ff"/>
<rect x="383.41" y="205.44" width="101.80" height="8.77" fill="#0000e8"/>
<rect x="484.91" y="205.44" width="25.67" height="8.77" fill="#0000da"/>
<rect x="510.28" y="205.44" width="17.22" height="8.77" fill="#0000e8"/>
<rect x="527.20" y="205.44" width="84.88" height="8.77" fill="#0000da"/>
<rect x="611.78" y="205.44" width="8.76" height="8.77" fill="#0000f1"/>
<rect x="620.24" y="205.44" width="17.22" height="8.77" fill="#0000ff"/>
<rect x="637.15" y="205.44" width="8.76" height="8.77" fill="#0004ff"/>
<rect x="645.61" y="205.44" width="8.76" height="8.77" fill="#000cff"/>
<rect x="654.07" y="205.44" width="8.76" height="8.77" fill="#0018ff"/>
<rect x="662.53" y="205.44" width="8.76" height="8.77" fill="#0020ff"/>
<rect x="670.99" y="205.44" width="8.76" height="8.77" fill="#0038ff"/>
<rect x="679.44" y="205.44" width="8.76" height="8.77" fill="#004cff"/>
<rect x="687.90" y="205.44" width="8.76" height="8.77" fill="#0080ff"/>
<rect x="696.36" y="205.44" width="8.76" height="8.77" fill="#00a8ff"/>
<rect x="704.82" y="205.44" width="9.18" height="8.77" fill="#00d0ff"/>
<rect x="105.00" y="213.91" width="8.06" height="8.77" fill="#00dcfe"/>
<rect x="112.76" y="213.91" width="8.76" height="8.77" fill="#0ff8e7"/>
<rect x="121.22" y="213.91" width="8.76" height="8.77" fill="#39ffbe"/>
<rect x="129.67" y="213.91" width="8.76" height="8.77" fill="#6aff8d"/>
<rect x="138.13" y="213.91" width="8.76" height="8.77" fill="#8dff6a"/>
<rect x="146.59" y="213.91" width="8.76" height="8.77" fill="#c7ff30"/>
<rect x="155.05" y="213.91" width="8.76" height="8.77" fill="#eeff09"/>
<rect x="163.51" y="213.91" width="8.76" height="8.77" fill="#ffbd00"/>
<rect x="171.96" y="213.91" width="8.76" height="8.77" fill="#ff9f00"/>
<rect x="180.42" y="213.91" width="8.76" height="8.77" fill="#ff9400"/>
<rect x="188.88" y="213.91" width="8.76" height="8.77" fill="#ff9f00"/>
<rect x="197.34" y="213.91" width="8.76" height="8.77" fill="#ffb200"/>
<rect x="205.80" y="213.91" width="17.22" height="8.77" fill="#ffbd00"/>
<rect x="222.71" y="213.91" width="8.76" height="8.77" fill="#ffb200"/>
<rect x="231.17" y="213.91" width="8.76" height="8.77" fill="#ff9400"/>
<rect x="239.63" y="213.91" width="8.76" height="8.77" fill="#ff7a00"/>
<rect x="248.09" y="213.91" width="17.22" height="8.77" fill="#ff6800"/>
<rect x="265.00" y="213.91" width="8.76" height="8.77" fill="#ff6f00"/>
<rect x="273.46" y="213.91" width="8.76" height="8.77" fill="#ff8200"/>
<rect x="281.92" y="213.91" width="8.76" height="8.77" fill="#ff9f00"/>
<rect x="290.38" y="213.91" width="8.76" height="8.77" fill="#ffbd00"/>
<rect x="298.83" y="213.91" width="8.76" height="8.77" fill="#ffd700"/>
<rect x="307.29" y="213.91" width="8.76" height="8.77" fill="#eeff09"/>
<rect x="315.75" y="213.91" width="8.76" height="8.77" fill="#94ff63"/>
<rect x="324.21" y="213.91" width="8.76" height="8.77" fill="#49ffad"/>
<rect x="332.67" y="213.91" width="8.76" height="8.77" fill="#00e4f8"/>
<rect x="341.12" y="213.91" width="8.76" height="8.77" fill="#0074ff"/>
<rect x="349.58" y="213.91" width="8.76" height="8.77" fill="#0038ff"/>
<rect x="358.04" y="213.91" width="8.76" height="8.77" fill="#0004ff"/>
<rect x="366.50" y="213.91" width="8.76" height="8.77" fill="#0000ff"/>
<rect x="374.96" y="213.91" width="8.76" height="8.77" fill="#0000f1"/>
<rect x="383.41" y="213.91" width="25.67" height="8.77" fill="#0000e8"/>
<rect x="408.79" y="213.91" width="76.42" height="8.77" fill="#0000df"/>
<rect x="484.91" y="213.91" width="25.67" height="8.77" fill="#0000b6"/>
<rect x="510.28" y="213.91" width="34.13" height="8.77" fill="#000089"/>
<rect x="544.12" y="213.91" width="34.13" height="8.77" fill="#0000a4"/>
<rect x="577.95" y="213.91" width="34.13" height="8.77" fill="#0000b6"/>
<rect x="611.78" y="213.91" width="8.76" height="8.77" fill="#0000da"/>
<rect x="620.24" y="213.91" width="8.76" height="8.77" fill="#0000e8"/>
<rect x="628.70" y="213.91" width="8.76" height="8.77" fill="#0000ff"/>
<rect x="637.15" y="213.91" width="8.76" height="8.77" fill="#0004ff"/>
<rect x="645.61" y="213.91" width="8.76" height="8.77" fill="#0018ff"/>
<rect x="654.07" y="213.91" width="8.76" height="8.77" fill="#0038ff"/>
<rect x="662.53" y="213.91" width="8.76" height="8.77" fill="#004cff"/>
<rect x="670.99" y="213.91" width="8.76" height="8.77" fill="#0054ff"/>
<rect x="679.44" y="213.91" width="8.76" height="8.77" fill="#0060ff"/>
<rect x="687.90" y="213.91" width="8.76" height="8.77" fill="#0074ff"/>
<rect x="696.36" y="213.91" width="8.76" height="8.77" fill="#0080ff"/>
<rect x="704.82" y="213.91" width="9.18" height="8.77" fill="#00a8ff"/>
<rect x="105.00" y="222.38" width="8.06" height="8.77" fill="#009cff"/>
<rect x="112.76" y="222.38" width="8.76" height="8.77" fill="#00b0ff"/>
<rect x="121.22" y="222.38" width="8.76" height="8.77" fill="#00dcfe"/>
<rect x="129.67" y="222.38" width="8.76" height="8.77" fill="#0ff8e7"/>
<rect x="138.13" y="222.38" width="8.76" height="8.77" fill="#29ffce"/>
<rect x="146.59" y="222.38" width="8.76" height="8.77" fill="#53ffa4"/>
<rect x="155.05" y="222.38" width="8.76" height="8.77" fill="#7dff7a"/>
<rect x="163.51" y="222.38" width="8.76" height="8.77" fill="#a4ff53"/>
<rect x="171.96" y="222.38" width="8.76" height="8.77" fill="#c7ff30"/>
<rect x="180.42" y="222.38" width="8.76" height="8.77" fill="#deff19"/>
<rect x="188.88" y="222.38" width="17.22" height="8.77" fill="#eeff09"/>
<rect x="205.80" y="222.38" width="8.76" height="8.77" fill="#ffd700"/>
<rect x="214.25" y="222.38" width="8.76" height="8.77" fill="#ffb200"/>
<rect x="222.71" y="222.38" width="8.76" height="8.77" fill="#ff7a00"/>
<rect x="231.17" y="222.38" width="8.76" height="8.77" fill="#ff3f00"/>
<rect x="239.63" y="222.38" width="8.76" height="8.77" fill="#da0000"/>
<rect x="248.09" y="222.38" width="8.76" height="8.77" fill="#ad0000"/>
<rect x="256.54" y="222.38" width="8.76" height="8.77" fill="#9f0000"/>
<rect x="265.00" y="222.38" width="8.76" height="8.77" fill="#c40000"/>
<rect x="273.46" y="222.38" width="8.76" height="8.77" fill="#e80000"/>
<rect x="281.92" y="222.38" width="8.76" height="8.77" fill="#ff5500"/>
<rect x="290.38" y="222.38" width="8.76" height="8.77" fill="#ff9400"/>
<rect x="298.83" y="222.38" width="8.76" height="8.77" fill="#ffd000"/>
<rect x="307.29" y="222.38" width="8.76" height="8.77" fill="#c7ff30"/>
<rect x="315.75" y="222.38" width="8.76" height="8.77" fill="#6aff8d"/>
<rect x="324.21" y="222.38" width="8.76" height="8.77" fill="#0ff8e7"/>
<rect x="332.67" y="222.38" width="8.76" height="8.77" fill="#0074ff"/>
<rect x="341.12" y="222.38" width="8.76" height="8.77" fill="#0038ff"/>
<rect x="349.58" y="222.38" width="8.76" height="8.77" fill="#000cff"/>
<rect x="358.04" y="222.38" width="8.76" height="8.77" fill="#0004ff"/>
<rect x="366.50" y="222.38" width="8.76" height="8.77" fill="#0000ff"/>
<rect x="374.96" y="222.38" width="8.76" height="8.77" fill="#0004ff"/>
<rect x="383.41" y="222.38" width="8.76" height="8.77" fill="#0000ff"/>
<rect x="391.87" y="222.38" width="8.76" height="8.77" fill="#000cff"/>
<rect x="400.33" y="222.38" width="17.22" height="8.77" fill="#0004ff"/>
<rect x="417.25" y="222.38" width="42.59" height="8.77" fill="#0000da"/>
<rect x="459.54" y="222.38" width="34.13" height="8.77" fill="#0000c4"/>
<rect x="493.37" y="222.38" width="17.22" height="8.77" fill="#000096"/>
<rect x="510.28" y="222.38" width="34.13" height="8.77" fill="#000084"/>
<rect x="544.12" y="222.38" width="67.96" height="8.77" fill="#000096"/>
<rect x="611.78" y="222.38" width="8.76" height="8.77" fill="#0000d6"/>
<rect x="620.24" y="222.38" width="8.76" height="8.77" fill="#0000e8"/>
<rect x="628.70" y="222.38" width="8.76" height="8.77" fill="#0000ff"/>
<rect x="637.15" y="222.38" width="8.76" height="8.77" fill="#000cff"/>
<rect x="645.61" y="222.38" width="8.76" height="8.77" fill="#0040ff"/>
<rect x="654.07" y="222.38" width="8.76" height="8.77" fill="#0054ff"/>
<rect x="662.53" y="222.38" width="8.76" height="8.77" fill="#0060ff"/>
<rect x="670.99" y="222.38" width="8.76" height="8.77" fill="#0068ff"/>
<rect x="679.44" y="222.38" width="8.76" height="8.77" fill="#0074ff"/>
<rect x="687.90" y="222.38" width="8.76" height="8.77" fill="#0080ff"/>
<rect x="696.36" y="222.38" width="8.76" height="8.77" fill="#0088ff"/>
<rect x="704.82" y="222.38" width="9.18" height="8.77" fill="#009cff"/>
<rect x="105.00" y="230.85" width="16.52" height="8.77" fill="#00bcff"/>
<rect x="121.22" y="230.85" width="8.76" height="8.77" fill="#009cff"/>
<rect x="129.67" y="230.85" width="8.76" height="8.77" fill="#0094ff"/>
<rect x="138.13" y="230.85" width="8.76" height="8.77" fill="#00a8ff"/>
<rect x="146.59" y="230.85" width="8.76" height="8.77" fill="#00bcff"/>
<rect x="155.05" y="230.85" width="8.76" height="8.77" fill="#00e4f8"/>
<rect x="163.51" y="230.85" width="8.76" height="8.77" fill="#0ff8e7"/>
<rect x="171.96" y="230.85" width="8.76" height="8.77" fill="#1fffd7"/>
<rect x="180.42" y="230.85" width="8.76" height="8.77" fill="#29ffce"/>
<rect x="188.88" y="230.85" width="8.76" height="8.77" fill="#39ffbe"/>
<rect x="197.34" y="230.85" width="8.76" height="8.77" fill="#49ffad"/>
<rect x="205.80" y="230.85" width="8.76" height="8.77" fill="#73ff83"/>
<rect x="214.25" y="230.85" width="8.76" height="8.77" fill="#8dff6a"/>
<rect x="222.71" y="230.85" width="8.76" height="8.77" fill="#deff19"/>
<rect x="231.17" y="230.85" width="8.76" height="8.77" fill="#ff9400"/>
<rect x="239.63" y="230.85" width="8.76" height="8.77" fill="#ff3f00"/>
<rect x="248.09" y="230.85" width="8.76" height="8.77" fill="#ad0000"/>
<rect x="256.54" y="230.85" width="8.76" height="8.77" fill="#890000"/>
<rect x="265.00" y="230.85" width="8.76" height="8.77" fill="#960000"/>
<rect x="273.46" y="230.85" width="8.76" height="8.77" fill="#cd0000"/>
<rect x="281.92" y="230.85" width="8.76" height="8.77" fill="#ff5d00"/>
<rect x="290.38" y="230.85" width="8.76" height="8.77" fill="#ffab00"/>
<rect x="298.83" y="230.85" width="8.76" height="8.77" fill="#d7ff1f"/>
<rect x="307.29" y="230.85" width="8.76" height="8.77" fill="#94ff63"/>
<rect x="315.75" y="230.85" width="8.76" height="8.77" fill="#43ffb4"/>
<rect x="324.21" y="230.85" width="8.76" height="8.77" fill="#0088ff"/>
<rect x="332.67" y="230.85" width="8.76" height="8.77" fill="#004cff"/>
<rect x="341.12" y="230.85" width="8.76" height="8.77" fill="#0018ff"/>
<rect x="349.58" y="230.85" width="17.22" height="8.77" fill="#0004ff"/>
<rect x="366.50" y="230.85" width="25.67" height="8.77" fill="#0000ff"/>
<rect x="391.87" y="230.85" width="25.67" height="8.77" fill="#0000f1"/>
<rect x="417.25" y="230.85" width="34.13" height="8.77" fill="#0000b6"/>
<rect x="451.08" y="230.85" width="34.13" height="8.77" fill="#0000ad"/>
<rect x="484.91" y="230.85" width="25.67" height="8.77" fill="#000089"/>
<rect x="510.28" y="230.85" width="51.05" height="8.77" fill="#000084"/>
<rect x="561.03" y="230.85" width="51.05" height="8.77" fill="#000096"/>
<rect x="611.78" y="230.85" width="8.76" height="8.77" fill="#0000cd"/>
<rect x="620.24" y="230.85" width="8.76" height="8.77" fill="#0000df"/>
<rect x="628.70" y="230.85" width="8.76" height="8.77" fill="#0000ff"/>
<rect x="637.15" y="230.85" width="8.76" height="8.77" fill="#000cff"/>
<rect x="645.61" y="230.85" width="8.76" height="8.77" fill="#0040ff"/>
<rect x="654.07" y="230.85" width="8.76" height="8.77" fill="#0054ff"/>
<rect x="662.53" y="230.85" width="8.76" height="8.77" fill="#0068ff"/>
<rect x="670.99" y="230.85" width="8.76" height="8.77" fill="#0094ff"/>
<rect x="679.44" y="230.85" width="8.76" height="8.77" fill="#009cff"/>
<rect x="687.90" y="230.85" width="8.76" height="8.77" fill="#00b0ff"/>
<rect x="696.36" y="230.85" width="8.76" height="8.77" fill="#00c4ff"/>
<rect x="704.82" y="230.85" width="9.18" height="8.77" fill="#00dcfe"/>
<rect x="105.00" y="239.32" width="16.52" height="8.77" fill="#0ff8e7"/>
<rect x="121.22" y="239.32" width="8.76" height="8.77" fill="#00e4f8"/>
<rect x="129.67" y="239.32" width="8.76" height="8.77" fill="#00dcfe"/>
<rect x="138.13" y="239.32" width="17.22" height="8.77" fill="#00bcff"/>
<rect x="155.05" y="239.32" width="17.22" height="8.77" fill="#00c4ff"/>
<rect x="171.96" y="239.32" width="17.22" height="8.77" fill="#00bcff"/>
<rect x="188.88" y="239.32" width="17.22" height="8.77" fill="#00a8ff"/>
<rect x="205.80" y="239.32" width="8.76" height="8.77" fill="#00b0ff"/>
<rect x="214.25" y="239.32" width="8.76" height="8.77" fill="#00dcfe"/>
<rect x="222.71" y="239.32" width="8.76" height="8.77" fill="#1fffd7"/>
<rect x="231.17" y="239.32" width="8.76" height="8.77" fill="#83ff73"/>
<rect x="239.63" y="239.32" width="8.76" height="8.77" fill="#deff19"/>
<rect x="248.09" y="239.32" width="8.76" height="8.77" fill="#ff9f00"/>
<rect x="256.54" y="239.32" width="8.76" height="8.77" fill="#ff5500"/>
<rect x="265.00" y="239.32" width="8.76" height="8.77" fill="#ff5d00"/>
<rect x="273.46" y="239.32" width="8.76" height="8.77" fill="#ff9400"/>
<rect x="281.92" y="239.32" width="8.76" height="8.77" fill="#ffd000"/>
<rect x="290.38" y="239.32" width="8.76" height="8.77" fill="#c7ff30"/>
<rect x="298.83" y="239.32" width="8.76" height="8.77" fill="#63ff94"/>
<rect x="307.29" y="239.32" width="8.76" height="8.77" fill="#00d0ff"/>
<rect x="315.75" y="239.32" width="8.76" height="8.77" fill="#0080ff"/>
<rect x="324.21" y="239.32" width="8.76" height="8.77" fill="#0068ff"/>
<rect x="332.67" y="239.32" width="8.76" height="8.77" fill="#0038ff"/>
<rect x="341.12" y="239.32" width="8.76" height="8.77" fill="#000cff"/>
<rect x="349.58" y="239.32" width="17.22" height="8.77" fill="#0000ff"/>
<rect x="366.50" y="239.32" width="8.76" height="8.77" fill="#0000cd"/>
<rect x="374.96" y="239.32" width="8.76" height="8.77" fill="#0000b6"/>
<rect x="383.41" y="239.32" width="25.67" height="8.77" fill="#000096"/>
<rect x="408.79" y="239.32" width="203.29" height="8.77" fill="#000089"/>
<rect x="611.78" y="239.32" width="8.76" height="8.77" fill="#0000c8"/>
<rect x="620.24" y="239.32" width="8.76" height="8.77" fill="#0000da"/>
<rect x="628.70" y="239.32" width="8.76" height="8.77" fill="#0000f1"/>
<rect x="637.15" y="239.32" width="17.22" height="8.77" fill="#0000ff"/>
<rect x="654.07" y="239.32" width="8.76" height="8.77" fill="#0004ff"/>
<rect x="662.53" y="239.32" width="8.76" height="8.77" fill="#0020ff"/>
<rect x="670.99" y="239.32" width="8.76" height="8.77" fill="#0060ff"/>
<rect x="679.44" y="239.32" width="8.76" height="8.77" fill="#0088ff"/>
<rect x="687.90" y="239.32" width="8.76" height="8.77" fill="#00b0ff"/>
<rect x="696.36" y="239.32" width="8.76" height="8.77" fill="#00dcfe"/>
<rect x="704.82" y="239.32" width="9.18" height="8.77" fill="#0ff8e7"/>
<rect x="105.00" y="247.79" width="8.06" height="8.77" fill="#00e4f8"/>
<rect x="112.76" y="247.79" width="17.22" height="8.77" fill="#19ffde"/>
<rect x="129.67" y="247.79" width="17.22" height="8.77" fill="#0ff8e7"/>
<rect x="146.59" y="247.79" width="8.76" height="8.77" fill="#19ffde"/>
<rect x="155.05" y="247.79" width="17.22" height="8.77" fill="#0ff8e7"/>
<rect x="171.96" y="247.79" width="8.76" height="8.77" fill="#19ffde"/>
<rect x="180.42" y="247.79" width="8.76" height="8.77" fill="#09f0ee"/>
<rect x="188.88" y="247.79" width="17.22" height="8.77" fill="#00dcfe"/>
<rect x="205.80" y="247.79" width="8.76" height="8.77" fill="#00a8ff"/>
<rect x="214.25" y="247.79" width="8.76" height="8.77" fill="#00bcff"/>
<rect x="222.71" y="247.79" width="8.76" height="8.77" fill="#00e4f8"/>
<rect x="231.17" y="247.79" width="8.76" height="8.77" fill="#29ffce"/>
<rect x="239.63" y="247.79" width="8.76" height="8.77" fill="#7dff7a"/>
<rect x="248.09" y="247.79" width="8.76" height="8.77" fill="#8dff6a"/>
<rect x="256.54" y="247.79" width="17.22" height="8.77" fill="#9dff5a"/>
<rect x="273.46" y="247.79" width="8.76" height="8.77" fill="#8dff6a"/>
<rect x="281.92" y="247.79" width="8.76" height="8.77" fill="#53ffa4"/>
<rect x="290.38" y="247.79" width="8.76" height="8.77" fill="#00dcfe"/>
<rect x="298.83" y="247.79" width="8.76" height="8.77" fill="#00a8ff"/>
<rect x="307.29" y="247.79" width="8.76" height="8.77" fill="#0094ff"/>
<rect x="315.75" y="247.79" width="8.76" height="8.77" fill="#0068ff"/>
<rect x="324.21" y="247.79" width="8.76" height="8.77" fill="#0060ff"/>
<rect x="332.67" y="247.79" width="8.76" height="8.77" fill="#0038ff"/>
<rect x="341.12" y="247.79" width="8.76" height="8.77" fill="#000cff"/>
<rect x="349.58" y="247.79" width="8.76" height="8.77" fill="#0000f1"/>
<rect x="358.04" y="247.79" width="8.76" height="8.77" fill="#0000ad"/>
<rect x="366.50" y="247.79" width="8.76" height="8.77" fill="#000096"/>
<rect x="374.96" y="247.79" width="34.13" height="8.77" fill="#000084"/>
<rect x="408.79" y="247.79" width="203.29" height="8.77" fill="#000089"/>
<rect x="611.78" y="247.79" width="8.76" height="8.77" fill="#0000c8"/>
<rect x="620.24" y="247.79" width="8.76" height="8.77" fill="#0000d6"/>
<rect x="628.70" y="247.79" width="8.76" height="8.77" fill="#0000e8"/>
<rect x="637.15" y="247.79" width="25.67" height="8.77" fill="#0000ff"/>
<rect x="662.53" y="247.79" width="8.76" height="8.77" fill="#0004ff"/>
<rect x="670.99" y="247.79" width="8.76" height="8.77" fill="#002cff"/>
<rect x="679.44" y="247.79" width="8.76" height="8.77" fill="#0060ff"/>
<rect x="687.90" y="247.79" width="8.76" height="8.77" fill="#0080ff"/>
<rect x="696.36" y="247.79" width="8.76" height="8.77" fill="#00a8ff"/>
<rect x="704.82" y="247.79" width="9.18" height="8.77" fill="#00c4ff"/>
<rect x="105.00" y="256.26" width="41.89" height="8.77" fill="#00bcff"/>
<rect x="146.59" y="256.26" width="8.76" height="8.77" fill="#00e4f8"/>
<rect x="155.05" y="256.26" width="8.76" height="8.77" fill="#0ff8e7"/>
<rect x="163.51" y="256.26" width="8.76" height="8.77" fill="#1fffd7"/>
<rect x="171.96" y="256.26" width="17.22" height="8.77" fill="#39ffbe"/>
<rect x="188.88" y="256.26" width="8.76" height="8.77" fill="#29ffce"/>
<rect x="197.34" y="256.26" width="8.76" height="8.77" fill="#1fffd7"/>
<rect x="205.80" y="256.26" width="8.76" height="8.77" fill="#29ffce"/>
<rect x="214.25" y="256.26" width="8.76" height="8.77" fill="#39ffbe"/>
<rect x="222.71" y="256.26" width="8.76" height="8.77" fill="#43ffb4"/>
<rect x="231.17" y="256.26" width="8.76" height="8.77" fill="#5aff9d"/>
<rect x="239.63" y="256.26" width="8.76" height="8.77" fill="#6aff8d"/>
<rect x="248.09" y="256.26" width="8.76" height="8.77" fill="#73ff83"/>
<rect x="256.54" y="256.26" width="8.76" height="8.77" fill="#6aff8d"/>
<rect x="265.00" y="256.26" width="8.76" height="8.77" fill="#49ffad"/>
<rect x="273.46" y="256.26" width="8.76" height="8.77" fill="#1fffd7"/>
<rect x="281.92" y="256.26" width="8.76" height="8.77" fill="#00e4f8"/>
<rect x="290.38" y="256.26" width="8.76" height="8.77" fill="#009cff"/>
<rect x="298.83" y="256.26" width="8.76" height="8.77" fill="#0080ff"/>
<rect x="307.29" y="256.26" width="8.76" height="8.77" fill="#0074ff"/>
<rect x="315.75" y="256.26" width="8.76" height="8.77" fill="#0054ff"/>
<rect x="324.21" y="256.26" width="8.76" height="8.77" fill="#0040ff"/>
<rect x="332.67" y="256.26" width="8.76" height="8.77" fill="#0004ff"/>
<rect x="341.12" y="256.26" width="8.76" height="8.77" fill="#0000e8"/>
<rect x="349.58" y="256.26" width="8.76" height="8.77" fill="#0000b6"/>
<rect x="358.04" y="256.26" width="8.76" height="8.77" fill="#000096"/>
<rect x="366.50" y="256.26" width="42.59" height="8.77" fill="#000084"/>
<rect x="408.79" y="256.26" width="101.80" height="8.77" fill="#00008d"/>
<rect x="510.28" y="256.26" width="101.80" height="8.77" fill="#000096"/>
<rect x="611.78" y="256.26" width="8.76" height="8.77" fill="#0000cd"/>
<rect x="620.24" y="256.26" width="8.76" height="8.77" fill="#0000da"/>
<rect x="628.70" y="256.26" width="8.76" height="8.77" fill="#0000e8"/>
<rect x="637.15" y="256.26" width="25.67" height="8.77" fill="#0000ff"/>
<rect x="662.53" y="256.26" width="8.76" height="8.77" fill="#0004ff"/>
<rect x="670.99" y="256.26" width="8.76" height="8.77" fill="#000cff"/>
<rect x="679.44" y="256.26" width="8.76" height="8.77" fill="#0038ff"/>
<rect x="687.90" y="256.26" width="8.76" height="8.77" fill="#0054ff"/>
<rect x="696.36" y="256.26" width="8.76" height="8.77" fill="#0074ff"/>
<rect x="704.82" y="256.26" width="9.18" height="8.77" fill="#0094ff"/>
<rect x="105.00" y="264.73" width="50.35" height="8.77" fill="#0074ff"/>
<rect x="155.05" y="264.73" width="8.76" height="8.77" fill="#0094ff"/>
<rect x="163.51" y="264.73" width="8.76" height="8.77" fill="#00b0ff"/>
<rect x="171.96" y="264.73" width="8.76" height="8.77" fill="#00d0ff"/>
<rect x="180.42" y="264.73" width="8.76" height="8.77" fill="#00e4f8"/>
<rect x="188.88" y="264.73" width="8.76" height="8.77" fill="#0ff8e7"/>
<rect x="197.34" y="264.73" width="8.76" height="8.77" fill="#1fffd7"/>
<rect x="205.80" y="264.73" width="8.76" height="8.77" fill="#39ffbe"/>
<rect x="214.25" y="264.73" width="8.76" height="8.77" fill="#6aff8d"/>
<rect x="222.71" y="264.73" width="8.76" height="8.77" fill="#7dff7a"/>
<rect x="231.17" y="264.73" width="8.76" height="8.77" fill="#a4ff53"/>
<rect x="239.63" y="264.73" width="17.22" height="8.77" fill="#b4ff43"/>
<rect x="256.54" y="264.73" width="8.76" height="8.77" fill="#8dff6a"/>
<rect x="265.00" y="264.73" width="8.76" height="8.77" fill="#5aff9d"/>
<rect x="273.46" y="264.73" width="8.76" height="8.77" fill="#19ffde"/>
<rect x="281.92" y="264.73" width="8.76" height="8.77" fill="#00d0ff"/>
<rect x="290.38" y="264.73" width="8.76" height="8.77" fill="#0088ff"/>
<rect x="298.83" y="264.73" width="8.76" height="8.77" fill="#0068ff"/>
<rect x="307.29" y="264.73" width="8.76" height="8.77" fill="#0060ff"/>
<rect x="315.75" y="264.73" width="8.76" height="8.77" fill="#0038ff"/>
<rect x="324.21" y="264.73" width="8.76" height="8.77" fill="#0004ff"/>
<rect x="332.67" y="264.73" width="8.76" height="8.77" fill="#0000e8"/>
<rect x="341.12" y="264.73" width="8.76" height="8.77" fill="#0000b6"/>
<rect x="349.58" y="264.73" width="8.76" height="8.77" fill="#000096"/>
<rect x="358.04" y="264.73" width="51.05" height="8.77" fill="#000080"/>
<rect x="408.79" y="264.73" width="51.05" height="8.77" fill="#0000ad"/>
<rect x="459.54" y="264.73" width="51.05" height="8.77" fill="#0000a4"/>
<rect x="510.28" y="264.73" width="101.80" height="8.77" fill="#00009f"/>
<rect x="611.78" y="264.73" width="17.22" height="8.77" fill="#0000da"/>
<rect x="628.70" y="264.73" width="8.76" height="8.77" fill="#0000e8"/>
<rect x="637.15" y="264.73" width="25.67" height="8.77" fill="#0000ff"/>
<rect x="662.53" y="264.73" width="8.76" height="8.77" fill="#0004ff"/>
<rect x="670.99" y="264.73" width="8.76" height="8.77" fill="#0018ff"/>
<rect x="679.44" y="264.73" width="8.76" height="8.77" fill="#0038ff"/>
<rect x="687.90" y="264.73" width="8.76" height="8.77" fill="#0040ff"/>
<rect x="696.36" y="264.73" width="17.64" height="8.77" fill="#004cff"/>
<rect x="105.00" y="273.20" width="50.35" height="8.77" fill="#000cff"/>
<rect x="155.05" y="273.20" width="8.76" height="8.77" fill="#0040ff"/>
<rect x="163.51" y="273.20" width="8.76" height="8.77" fill="#0054ff"/>
<rect x="171.96" y="273.20" width="8.76" height="8.77" fill="#0068ff"/>
<rect x="180.42" y="273.20" width="8.76" height="8.77" fill="#0074ff"/>
<rect x="188.88" y="273.20" width="8.76" height="8.77" fill="#0080ff"/>
<rect x="197.34" y="273.20" width="8.76" height="8.77" fill="#00a8ff"/>
<rect x="205.80" y="273.20" width="8.76" height="8.77" fill="#00dcfe"/>
<rect x="214.25" y="273.20" width="8.76" height="8.77" fill="#0ff8e7"/>
<rect x="222.71" y="273.20" width="8.76" height="8.77" fill="#43ffb4"/>
<rect x="231.17" y="273.20" width="8.76" height="8.77" fill="#6aff8d"/>
<rect x="239.63" y="273.20" width="8.76" height="8.77" fill="#7dff7a"/>
<rect x="248.09" y="273.20" width="8.76" height="8.77" fill="#83ff73"/>
<rect x="256.54" y="273.20" width="8.76" height="8.77" fill="#7dff7a"/>
<rect x="265.00" y="273.20" width="8.76" height="8.77" fill="#49ffad"/>
<rect x="273.46" y="273.20" width="8.76" height="8.77" fill="#19ffde"/>
<rect x="281.92" y="273.20" width="8.76" height="8.77" fill="#00bcff"/>
<rect x="290.38" y="273.20" width="8.76" height="8.77" fill="#0080ff"/>
<rect x="298.83" y="273.20" width="8.76" height="8.77" fill="#0054ff"/>
<rect x="307.29" y="273.20" width="8.76" height="8.77" fill="#0038ff"/>
<rect x="315.75" y="273.20" width="8.76" height="8.77" fill="#0004ff"/>
<rect x="324.21" y="273.20" width="8.76" height="8.77" fill="#0000f1"/>
<rect x="332.67" y="273.20" width="8.76" height="8.77" fill="#0000cd"/>
<rect x="341.12" y="273.20" width="8.76" height="8.77" fill="#00009f"/>
<rect x="349.58" y="273.20" width="42.59" height="8.77" fill="#000080"/>
<rect x="391.87" y="273.20" width="17.22" height="8.77" fill="#000096"/>
<rect x="408.79" y="273.20" width="51.05" height="8.77" fill="#0000ad"/>
<rect x="459.54" y="273.20" width="51.05" height="8.77" fill="#0000a4"/>
<rect x="510.28" y="273.20" width="101.80" height="8.77" fill="#00009f"/>
<rect x="611.78" y="273.20" width="25.67" height="8.77" fill="#0000da"/>
<rect x="637.15" y="273.20" width="17.22" height="8.77" fill="#0000f1"/>
<rect x="654.07" y="273.20" width="17.22" height="8.77" fill="#0000ff"/>
<rect x="670.99" y="273.20" width="8.76" height="8.77" fill="#000cff"/>
<rect x="679.44" y="273.20" width="8.76" height="8.77" fill="#002cff"/>
<rect x="687.90" y="273.20" width="26.10" height="8.77" fill="#0038ff"/>
<rect x="105.00" y="281.67" width="67.26" height="8.77" fill="#0000ff"/>
<rect x="171.96" y="281.67" width="8.76" height="8.77" fill="#000cff"/>
<rect x="180.42" y="281.67" width="8.76" height="8.77" fill="#002cff"/>
<rect x="188.88" y="281.67" width="8.76" height="8.77" fill="#0040ff"/>
<rect x="197.34" y="281.67" width="8.76" height="8.77" fill="#0054ff"/>
<rect x="205.80" y="281.67" width="8.76" height="8.77" fill="#0074ff"/>
<rect x="214.25" y="281.67" width="8.76" height="8.77" fill="#0088ff"/>
<rect x="222.71" y="281.67" width="8.76" height="8.77" fill="#009cff"/>
<rect x="231.17" y="281.67" width="8.76" height="8.77" fill="#00dcfe"/>
<rect x="239.63" y="281.67" width="8.76" height="8.77" fill="#00e4f8"/>
<rect x="248.09" y="281.67" width="17.22" height="8.77" fill="#0ff8e7"/>
<rect x="265.00" y="281.67" width="8.76" height="8.77" fill="#00dcfe"/>
<rect x="273.46" y="281.67" width="8.76" height="8.77" fill="#0094ff"/>
<rect x="281.92" y="281.67" width="8.76" height="8.77" fill="#0060ff"/>
<rect x="290.38" y="281.67" width="8.76" height="8.77" fill="#0020ff"/>
<rect x="298.83" y="281.67" width="8.76" height="8.77" fill="#0004ff"/>
<rect x="307.29" y="281.67" width="8.76" height="8.77" fill="#0000ff"/>
<rect x="315.75" y="281.67" width="8.76" height="8.77" fill="#0000da"/>
<rect x="324.21" y="281.67" width="8.76" height="8.77" fill="#0000c4"/>
<rect x="332.67" y="281.67" width="8.76" height="8.77" fill="#00009f"/>
<rect x="341.12" y="281.67" width="34.13" height="8.77" fill="#000080"/>
<rect x="374.96" y="281.67" width="34.13" height="8.77" fill="#00009b"/>
<rect x="408.79" y="281.67" width="51.05" height="8.77" fill="#0000ad"/>
<rect x="459.54" y="281.67" width="51.05" height="8.77" fill="#0000a4"/>
<rect x="510.28" y="281.67" width="101.80" height="8.77" fill="#00009f"/>
<rect x="611.78" y="281.67" width="34.13" height="8.77" fill="#0000df"/>
<rect x="645.61" y="281.67" width="8.76" height="8.77" fill="#0000f1"/>
<rect x="654.07" y="281.67" width="25.67" height="8.77" fill="#0000ff"/>
<rect x="679.44" y="281.67" width="34.56" height="8.77" fill="#0004ff"/>
<rect x="105.00" y="290.14" width="92.64" height="8.77" fill="#0000ff"/>
<rect x="197.34" y="290.14" width="8.76" height="8.77" fill="#000cff"/>
<rect x="205.80" y="290.14" width="8.76" height="8.77" fill="#0018ff"/>
<rect x="214.25" y="290.14" width="8.76" height="8.77" fill="#0038ff"/>
<rect x="222.71" y="290.14" width="8.76" height="8.77" fill="#0040ff"/>
<rect x="231.17" y="290.14" width="8.76" height="8.77" fill="#0060ff"/>
<rect x="239.63" y="290.14" width="25.67" height="8.77" fill="#0068ff"/>
<rect x="265.00" y="290.14" width="8.76" height="8.77" fill="#0054ff"/>
<rect x="273.46" y="290.14" width="8.76" height="8.77" fill="#0038ff"/>
<rect x="281.92" y="290.14" width="8.76" height="8.77" fill="#000cff"/>
<rect x="290.38" y="290.14" width="8.76" height="8.77" fill="#0000f1"/>
<rect x="298.83" y="290.14" width="8.76" height="8.77" fill="#0000cd"/>
<rect x="307.29" y="290.14" width="8.76" height="8.77" fill="#0000da"/>
<rect x="315.75" y="290.14" width="8.76" height="8.77" fill="#0000b6"/>
<rect x="324.21" y="290.14" width="8.76" height="8.77" fill="#0000a4"/>
<rect x="332.67" y="290.14" width="34.13" height="8.77" fill="#000084"/>
<rect x="366.50" y="290.14" width="42.59" height="8.77" fill="#0000a4"/>
<rect x="408.79" y="290.14" width="51.05" height="8.77" fill="#0000ad"/>
<rect x="459.54" y="290.14" width="51.05" height="8.77" fill="#0000a4"/>
<rect x="510.28" y="290.14" width="101.80" height="8.77" fill="#00009f"/>
<rect x="611.78" y="290.14" width="34.13" height="8.77" fill="#0000da"/>
<rect x="645.61" y="290.14" width="25.67" height="8.77" fill="#0000f1"/>
<rect x="670.99" y="290.14" width="43.01" height="8.77" fill="#0000ff"/>
<rect x="105.00" y="298.61" width="101.10" height="8.77" fill="#0000ff"/>
<rect x="205.80" y="298.61" width="8.76" height="8.77" fill="#0004ff"/>
<rect x="214.25" y="298.61" width="8.76" height="8.77" fill="#000cff"/>
<rect x="222.71" y="298.61" width="8.76" height="8.77" fill="#0018ff"/>
<rect x="231.17" y="298.61" width="8.76" height="8.77" fill="#002cff"/>
<rect x="239.63" y="298.61" width="25.67" height="8.77" fill="#0018ff"/>
<rect x="265.00" y="298.61" width="8.76" height="8.77" fill="#0004ff"/>
<rect x="273.46" y="298.61" width="8.76" height="8.77" fill="#0000ff"/>
<rect x="281.92" y="298.61" width="8.76" height="8.77" fill="#0000e8"/>
<rect x="290.38" y="298.61" width="8.76" height="8.77" fill="#0000cd"/>
<rect x="298.83" y="298.61" width="17.22" height="8.77" fill="#0000b6"/>
<rect x="315.75" y="298.61" width="8.76" height="8.77" fill="#00009f"/>
<rect x="324.21" y="298.61" width="34.13" height="8.77" fill="#000084"/>
<rect x="358.04" y="298.61" width="101.80" height="8.77" fill="#0000ad"/>
<rect x="459.54" y="298.61" width="51.05" height="8.77" fill="#0000a4"/>
<rect x="510.28" y="298.61" width="101.80" height="8.77" fill="#00009f"/>
<rect x="611.78" y="298.61" width="25.67" height="8.77" fill="#0000cd"/>
<rect x="637.15" y="298.61" width="17.22" height="8.77" fill="#0000e8"/>
<rect x="654.07" y="298.61" width="59.93" height="8.77" fill="#0000ff"/>
<rect x="105.00" y="307.08" width="101.10" height="8.77" fill="#0000ff"/>
<rect x="205.80" y="307.08" width="8.76" height="8.77" fill="#0018ff"/>
<rect x="214.25" y="307.08" width="17.22" height="8.77" fill="#0004ff"/>
<rect x="231.17" y="307.08" width="25.67" height="8.77" fill="#0000ff"/>
<rect x="256.54" y="307.08" width="8.76" height="8.77" fill="#0000f1"/>
<rect x="265.00" y="307.08" width="8.76" height="8.77" fill="#0000e8"/>
<rect x="273.46" y="307.08" width="8.76" height="8.77" fill="#0000da"/>
<rect x="281.92" y="307.08" width="8.76" height="8.77" fill="#0000d6"/>
<rect x="290.38" y="307.08" width="17.22" height="8.77" fill="#0000cd"/>
<rect x="307.29" y="307.08" width="8.76" height="8.77" fill="#0000c4"/>
<rect x="315.75" y="307.08" width="17.22" height="8.77" fill="#00009f"/>
<rect x="332.67" y="307.08" width="42.59" height="8.77" fill="#000089"/>
<rect x="374.96" y="307.08" width="8.76" height="8.77" fill="#00009f"/>
<rect x="383.41" y="307.08" width="25.67" height="8.77" fill="#0000cd"/>
<rect x="408.79" y="307.08" width="51.05" height="8.77" fill="#0000b6"/>
<rect x="459.54" y="307.08" width="51.05" height="8.77" fill="#0000ad"/>
<rect x="510.28" y="307.08" width="51.05" height="8.77" fill="#00009f"/>
<rect x="561.03" y="307.08" width="51.05" height="8.77" fill="#000096"/>
<rect x="611.78" y="307.08" width="34.13" height="8.77" fill="#0000da"/>
<rect x="645.61" y="307.08" width="25.67" height="8.77" fill="#0000e8"/>
<rect x="670.99" y="307.08" width="43.01" height="8.77" fill="#0000ff"/>
<rect x="105.00" y="315.55" width="8.06" height="8.77" fill="#0000ff"/>
<rect x="112.76" y="315.55" width="93.34" height="8.77" fill="#0004ff"/>
<rect x="205.80" y="315.55" width="8.76" height="8.77" fill="#000cff"/>
<rect x="214.25" y="315.55" width="8.76" height="8.77" fill="#0004ff"/>
<rect x="222.71" y="315.55" width="34.13" height="8.77" fill="#0000ff"/>
<rect x="256.54" y="315.55" width="8.76" height="8.77" fill="#0000f1"/>
<rect x="265.00" y="315.55" width="8.76" height="8.77" fill="#0000e8"/>
<rect x="273.46" y="315.55" width="8.76" height="8.77" fill="#0000da"/>
<rect x="281.92" y="315.55" width="25.67" height="8.77" fill="#0000cd"/>
<rect x="307.29" y="315.55" width="8.76" height="8.77" fill="#0000b6"/>
<rect x="315.75" y="315.55" width="59.51" height="8.77" fill="#000089"/>
<rect x="374.96" y="315.55" width="8.76" height="8.77" fill="#00009f"/>
<rect x="383.41" y="315.55" width="25.67" height="8.77" fill="#0000c4"/>
<rect x="408.79" y="315.55" width="51.05" height="8.77" fill="#0000b6"/>
<rect x="459.54" y="315.55" width="51.05" height="8.77" fill="#0000ad"/>
<rect x="510.28" y="315.55" width="51.05" height="8.77" fill="#00009f"/>
<rect x="561.03" y="315.55" width="51.05" height="8.77" fill="#000096"/>
<rect x="611.78" y="315.55" width="8.76" height="8.77" fill="#0000a4"/>
<rect x="620.24" y="315.55" width="8.76" height="8.77" fill="#0000ad"/>
<rect x="628.70" y="315.55" width="8.76" height="8.77" fill="#0000b6"/>
<rect x="637.15" y="315.55" width="8.76" height="8.77" fill="#0000bf"/>
<rect x="645.61" y="315.55" width="8.76" height="8.77" fill="#0000c8"/>
<rect x="654.07" y="315.55" width="8.76" height="8.77" fill="#0000d1"/>
<rect x="662.53" y="315.55" width="8.76" height="8.77" fill="#0000da"/>
<rect x="670.99" y="315.55" width="8.76" height="8.77" fill="#0000e8"/>
<rect x="679.44" y="315.55" width="8.76" height="8.77" fill="#0000f1"/>
<rect x="687.90" y="315.55" width="17.22" height="8.77" fill="#0000ff"/>
<rect x="704.82" y="315.55" width="9.18" height="8.77" fill="#0004ff"/>
<rect x="105.00" y="324.02" width="16.52" height="8.77" fill="#0000ff"/>
<rect x="121.22" y="324.02" width="84.88" height="8.77" fill="#0018ff"/>
<rect x="205.80" y="324.02" width="8.76" height="8.77" fill="#000cff"/>
<rect x="214.25" y="324.02" width="42.59" height="8.77" fill="#0000ff"/>
<rect x="256.54" y="324.02" width="8.76" height="8.77" fill="#0000e8"/>
<rect x="265.00" y="324.02" width="17.22" height="8.77" fill="#0000da"/>
<rect x="281.92" y="324.02" width="25.67" height="8.77" fill="#0000cd"/>
<rect x="307.29" y="324.02" width="8.76" height="8.77" fill="#0000b6"/>
<rect x="315.75" y="324.02" width="51.05" height="8.77" fill="#000084"/>
<rect x="366.50" y="324.02" width="17.22" height="8.77" fill="#000096"/>
<rect x="383.41" y="324.02" width="25.67" height="8.77" fill="#0000ad"/>
<rect x="408.79" y="324.02" width="51.05" height="8.77" fill="#0000b6"/>
<rect x="459.54" y="324.02" width="51.05" height="8.77" fill="#0000ad"/>
<rect x="510.28" y="324.02" width="51.05" height="8.77" fill="#00009f"/>
<rect x="561.03" y="324.02" width="51.05" height="8.77" fill="#000096"/>
<rect x="611.78" y="324.02" width="8.76" height="8.77" fill="#0000a4"/>
<rect x="620.24" y="324.02" width="8.76" height="8.77" fill="#0000ad"/>
<rect x="628.70" y="324.02" width="8.76" height="8.77" fill="#0000b6"/>
<rect x="637.15" y="324.02" width="8.76" height="8.77" fill="#0000bf"/>
<rect x="645.61" y="324.02" width="8.76" height="8.77" fill="#0000c8"/>
<rect x="654.07" y="324.02" width="8.76" height="8.77" fill="#0000d1"/>
<rect x="662.53" y="324.02" width="8.76" height="8.77" fill="#0000da"/>
<rect x="670.99" y="324.02" width="8.76" height="8.77" fill="#0000e8"/>
<rect x="679.44" y="324.02" width="8.76" height="8.77" fill="#0000f1"/>
<rect x="687.90" y="324.02" width="17.22" height="8.77" fill="#0000ff"/>
<rect x="704.82" y="324.02" width="9.18" height="8.77" fill="#0004ff"/>
<rect x="105.00" y="332.49" width="16.52" height="8.77" fill="#0000ff"/>
<rect x="121.22" y="332.49" width="42.59" height="8.77" fill="#001cff"/>
<rect x="163.51" y="332.49" width="25.67" height="8.77" fill="#0020ff"/>
<rect x="188.88" y="332.49" width="17.22" height="8.77" fill="#001cff"/>
<rect x="205.80" y="332.49" width="8.76" height="8.77" fill="#0004ff"/>
<rect x="214.25" y="332.49" width="25.67" height="8.77" fill="#0000ff"/>
<rect x="239.63" y="332.49" width="17.22" height="8.77" fill="#0000f1"/>
<rect x="256.54" y="332.49" width="17.22" height="8.77" fill="#0000e8"/>
<rect x="273.46" y="332.49" width="34.13" height="8.77" fill="#0000cd"/>
<rect x="307.29" y="332.49" width="8.76" height="8.77" fill="#0000b6"/>
<rect x="315.75" y="332.49" width="51.05" height="8.77" fill="#000084"/>
<rect x="366.50" y="332.49" width="17.22" height="8.77" fill="#000096"/>
<rect x="383.41" y="332.49" width="25.67" height="8.77" fill="#0000ad"/>
<rect x="408.79" y="332.49" width="51.05" height="8.77" fill="#0000b6"/>
<rect x="459.54" y="332.49" width="51.05" height="8.77" fill="#0000ad"/>
<rect x="510.28" y="332.49" width="51.05" height="8.77" fill="#00009f"/>
<rect x="561.03" y="332.49" width="51.05" height="8.77" fill="#000096"/>
<rect x="611.78" y="332.49" width="8.76" height="8.77" fill="#0000a4"/>
<rect x="620.24" y="332.49" width="8.76" height="8.77" fill="#0000ad"/>
<rect x="628.70" y="332.49" width="8.76" height="8.77" fill="#0000b6"/>
<rect x="637.15" y="332.49" width="8.76" height="8.77" fill="#0000bf"/>
<rect x="645.61" y="332.49" width="8.76" height="8.77" fill="#0000c8"/>
<rect x="654.07" y="332.49" width="8.76" height="8.77" fill="#0000d1"/>
<rect x="662.53" y="332.49" width="8.76" height="8.77" fill="#0000da"/>
<rect x="670.99" y="332.49" width="8.76" height="8.77" fill="#0000e8"/>
<rect x="679.44" y="332.49" width="8.76" height="8.77" fill="#0000f1"/>
<rect x="687.90" y="332.49" width="17.22" height="8.77" fill="#0000ff"/>
<rect x="704.82" y="332.49" width="9.18" height="8.77" fill="#0004ff"/>
<rect x="105.00" y="340.96" width="16.52" height="8.77" fill="#0000ff"/>
<rect x="121.22" y="340.96" width="84.88" height="8.77" fill="#0014ff"/>
<rect x="205.80" y="340.96" width="34.13" height="8.77" fill="#0000ff"/>
<rect x="239.63" y="340.96" width="25.67" height="8.77" fill="#0000e8"/>
<rect x="265.00" y="340.96" width="42.59" height="8.77" fill="#0000cd"/>
<rect x="307.29" y="340.96" width="8.76" height="8.77" fill="#0000b6"/>
<rect x="315.75" y="340.96" width="51.05" height="8.77" fill="#000084"/>
<rect x="366.50" y="340.96" width="17.22" height="8.77" fill="#000096"/>
<rect x="383.41" y="340.96" width="25.67" height="8.77" fill="#0000ad"/>
<rect x="408.79" y="340.96" width="51.05" height="8.77" fill="#0000b6"/>
<rect x="459.54" y="340.96" width="51.05" height="8.77" fill="#0000ad"/>
<rect x="510.28" y="340.96" width="51.05" height="8.77" fill="#00009f"/>
<rect x="561.03" y="340.96" width="51.05" height="8.77" fill="#000096"/>
<rect x="611.78" y="340.96" width="8.76" height="8.77" fill="#00009f"/>
<rect x="620.24" y="340.96" width="8.76" height="8.77" fill="#0000a4"/>
<rect x="628.70" y="340.96" width="8.76" height="8.77" fill="#0000ad"/>
<rect x="637.15" y="340.96" width="8.76" height="8.77" fill="#0000b2"/>
<rect x="645.61" y="340.96" width="8.76" height="8.77" fill="#0000b6"/>
<rect x="654.07" y="340.96" width="8.76" height="8.77" fill="#0000bf"/>
<rect x="662.53" y="340.96" width="8.76" height="8.77" fill="#0000c4"/>
<rect x="670.99" y="340.96" width="8.76" height="8.77" fill="#0000cd"/>
<rect x="679.44" y="340.96" width="8.76" height="8.77" fill="#0000da"/>
<rect x="687.90" y="340.96" width="8.76" height="8.77" fill="#0000e8"/>
<rect x="696.36" y="340.96" width="8.76" height="8.77" fill="#0000f1"/>
<rect x="704.82" y="340.96" width="9.18" height="8.77" fill="#0000ff"/>
<rect x="105.00" y="349.43" width="109.55" height="8.77" fill="#0000ff"/>
<rect x="214.25" y="349.43" width="34.13" height="8.77" fill="#0000f1"/>
<rect x="248.09" y="349.43" width="34.13" height="8.77" fill="#0000da"/>
<rect x="281.92" y="349.43" width="25.67" height="8.77" fill="#0000c4"/>
<rect x="307.29" y="349.43" width="8.76" height="8.77" fill="#0000b6"/>
<rect x="315.75" y="349.43" width="51.05" height="8.77" fill="#000084"/>
<rect x="366.50" y="349.43" width="17.22" height="8.77" fill="#000096"/>
<rect x="383.41" y="349.43" width="25.67" height="8.77" fill="#0000ad"/>
<rect x="408.79" y="349.43" width="51.05" height="8.77" fill="#0000b6"/>
<rect x="459.54" y="349.43" width="51.05" height="8.77" fill="#0000ad"/>
<rect x="510.28" y="349.43" width="51.05" height="8.77" fill="#00009f"/>
<rect x="561.03" y="349.43" width="51.05" height="8.77" fill="#000096"/>
<rect x="611.78" y="349.43" width="8.76" height="8.77" fill="#00009f"/>
<rect x="620.24" y="349.43" width="8.76" height="8.77" fill="#0000a4"/>
<rect x="628.70" y="349.43" width="8.76" height="8.77" fill="#0000ad"/>
<rect x="637.15" y="349.43" width="8.76" height="8.77" fill="#0000b2"/>
<rect x="645.61" y="349.43" width="8.76" height="8.77" fill="#0000b6"/>
<rect x="654.07" y="349.43" width="8.76" height="8.77" fill="#0000bf"/>
<rect x="662.53" y="349.43" width="8.76" height="8.77" fill="#0000c4"/>
<rect x="670.99" y="349.43" width="8.76" height="8.77" fill="#0000cd"/>
<rect x="679.44" y="349.43" width="8.76" height="8.77" fill="#0000da"/>
<rect x="687.90" y="349.43" width="8.76" height="8.77" fill="#0000e8"/>
<rect x="696.36" y="349.43" width="8.76" height="8.77" fill="#0000f1"/>
<rect x="704.82" y="349.43" width="9.18" height="8.77" fill="#0000ff"/>
<rect x="105.00" y="357.90" width="101.10" height="8.77" fill="#0000ff"/>
<rect x="205.80" y="357.90" width="8.76" height="8.77" fill="#0000e8"/>
<rect x="214.25" y="357.90" width="8.76" height="8.77" fill="#0000e3"/>
<rect x="222.71" y="357.90" width="8.76" height="8.77" fill="#0000df"/>
<rect x="231.17" y="357.90" width="8.76" height="8.77" fill="#0000da"/>
<rect x="239.63" y="357.90" width="8.76" height="8.77" fill="#0000d6"/>
<rect x="248.09" y="357.90" width="8.76" height="8.77" fill="#0000d1"/>
<rect x="256.54" y="357.90" width="8.76" height="8.77" fill="#0000cd"/>
<rect x="265.00" y="357.90" width="8.76" height="8.77" fill="#0000c8"/>
<rect x="273.46" y="357.90" width="8.76" height="8.77" fill="#0000c4"/>
<rect x="281.92" y="357.90" width="8.76" height="8.77" fill="#0000bf"/>
<rect x="290.38" y="357.90" width="8.76" height="8.77" fill="#0000bb"/>
<rect x="298.83" y="357.90" width="8.76" height="8.77" fill="#0000b6"/>
<rect x="307.29" y="357.90" width="8.76" height="8.77" fill="#00009f"/>
<rect x="315.75" y="357.90" width="67.96" height="8.77" fill="#000089"/>
<rect x="383.41" y="357.90" width="25.67" height="8.77" fill="#00009f"/>
<rect x="408.79" y="357.90" width="51.05" height="8.77" fill="#0000b6"/>
<rect x="459.54" y="357.90" width="51.05" height="8.77" fill="#0000ad"/>
<rect x="510.28" y="357.90" width="51.05" height="8.77" fill="#00009f"/>
<rect x="561.03" y="357.90" width="51.05" height="8.77" fill="#000096"/>
<rect x="611.78" y="357.90" width="8.76" height="8.77" fill="#00009f"/>
<rect x="620.24" y="357.90" width="8.76" height="8.77" fill="#0000a4"/>
<rect x="628.70" y="357.90" width="8.76" height="8.77" fill="#0000ad"/>
<rect x="637.15" y="357.90" width="8.76" height="8.77" fill="#0000b2"/>
<rect x="645.61" y="357.90" width="8.76" height="8.77" fill="#0000b6"/>
<rect x="654.07" y="357.90" width="8.76" height="8.77" fill="#0000bf"/>
<rect x="662.53" y="357.90" width="8.76" height="8.77" fill="#0000c4"/>
<rect x="670.99" y="357.90" width="8.76" height="8.77" fill="#0000cd"/>
<rect x="679.44" y="357.90" width="8.76" height="8.77" fill="#0000da"/>
<rect x="687.90" y="357.90" width="8.76" height="8.77" fill="#0000e8"/>
<rect x="696.36" y="357.90" width="8.76" height="8.77" fill="#0000f1"/>
<rect x="704.82" y="357.90" width="9.18" height="8.77" fill="#0000ff"/>
<rect x="105.00" y="366.37" width="101.10" height="8.77" fill="#0000e8"/>
<rect x="205.80" y="366.37" width="17.22" height="8.77" fill="#0000cd"/>
<rect x="222.71" y="366.37" width="8.76" height="8.77" fill="#0000c8"/>
<rect x="231.17" y="366.37" width="17.22" height="8.77" fill="#0000c4"/>
<rect x="248.09" y="366.37" width="8.76" height="8.77" fill="#0000bf"/>
<rect x="256.54" y="366.37" width="17.22" height="8.77" fill="#0000bb"/>
<rect x="273.46" y="366.37" width="8.76" height="8.77" fill="#0000b6"/>
<rect x="281.92" y="366.37" width="8.76" height="8.77" fill="#0000b2"/>
<rect x="290.38" y="366.37" width="17.22" height="8.77" fill="#0000ad"/>
<rect x="307.29" y="366.37" width="8.76" height="8.77" fill="#00009f"/>
<rect x="315.75" y="366.37" width="67.96" height="8.77" fill="#000089"/>
<rect x="383.41" y="366.37" width="127.17" height="8.77" fill="#00009f"/>
<rect x="510.28" y="366.37" width="110.25" height="8.77" fill="#000096"/>
<rect x="620.24" y="366.37" width="8.76" height="8.77" fill="#00009b"/>
<rect x="628.70" y="366.37" width="8.76" height="8.77" fill="#00009f"/>
<rect x="637.15" y="366.37" width="17.22" height="8.77" fill="#0000a4"/>
<rect x="654.07" y="366.37" width="8.76" height="8.77" fill="#0000a8"/>
<rect x="662.53" y="366.37" width="17.22" height="8.77" fill="#0000ad"/>
<rect x="679.44" y="366.37" width="17.22" height="8.77" fill="#0000b2"/>
<rect x="696.36" y="366.37" width="17.64" height="8.77" fill="#0000b6"/>
<rect x="105.00" y="374.84" width="101.10" height="8.77" fill="#0000da"/>
<rect x="205.80" y="374.84" width="17.22" height="8.77" fill="#0000cd"/>
<rect x="222.71" y="374.84" width="8.76" height="8.77" fill="#0000c8"/>
<rect x="231.17" y="374.84" width="17.22" height="8.77" fill="#0000c4"/>
<rect x="248.09" y="374.84" width="8.76" height="8.77" fill="#0000bf"/>
<rect x="256.54" y="374.84" width="17.22" height="8.77" fill="#0000bb"/>
<rect x="273.46" y="374.84" width="8.76" height="8.77" fill="#0000b6"/>
<rect x="281.92" y="374.84" width="8.76" height="8.77" fill="#0000b2"/>
<rect x="290.38" y="374.84" width="17.22" height="8.77" fill="#0000ad"/>
<rect x="307.29" y="374.84" width="8.76" height="8.77" fill="#00009f"/>
<rect x="315.75" y="374.84" width="67.96" height="8.77" fill="#000089"/>
<rect x="383.41" y="374.84" width="127.17" height="8.77" fill="#00009f"/>
<rect x="510.28" y="374.84" width="110.25" height="8.77" fill="#000096"/>
<rect x="620.24" y="374.84" width="8.76" height="8.77" fill="#00009b"/>
<rect x="628.70" y="374.84" width="8.76" height="8.77" fill="#00009f"/>
<rect x="637.15" y="374.84" width="17.22" height="8.77" fill="#0000a4"/>
<rect x="654.07" y="374.84" width="8.76" height="8.77" fill="#0000a8"/>
<rect x="662.53" y="374.84" width="17.22" height="8.77" fill="#0000ad"/>
<rect x="679.44" y="374.84" width="17.22" height="8.77" fill="#0000b2"/>
<rect x="696.36" y="374.84" width="17.64" height="8.77" fill="#0000b6"/>
<rect x="105.00" y="383.31" width="101.10" height="7.69" fill="#0000da"/>
<rect x="205.80" y="383.31" width="17.22" height="7.69" fill="#0000cd"/>
<rect x="222.71" y="383.31" width="8.76" height="7.69" fill="#0000c8"/>
<rect x="231.17" y="383.31" width="17.22" height="7.69" fill="#0000c4"/>
<rect x="248.09" y="383.31" width="8.76" height="7.69" fill="#0000bf"/>
<rect x="256.54" y="383.31" width="17.22" height="7.69" fill="#0000bb"/>
<rect x="273.46" y="383.31" width="8.76" height="7.69" fill="#0000b6"/>
<rect x="281.92" y="383.31" width="8.76" height="7.69" fill="#0000b2"/>
<rect x="290.38" y="383.31" width="17.22" height="7.69" fill="#0000ad"/>
<rect x="307.29" y="383.31" width="8.76" height="7.69" fill="#00009f"/>
<rect x="315.75" y="383.31" width="67.96" height="7.69" fill="#000089"/>
<rect x="383.41" y="383.31" width="25.67" height="7.69" fill="#00009f"/>
<rect x="408.79" y="383.31" width="203.29" height="7.69" fill="#0000ad"/>
<rect x="611.78" y="383.31" width="8.76" height="7.69" fill="#000096"/>
<rect x="620.24" y="383.31" width="8.76" height="7.69" fill="#00009b"/>
<rect x="628.70" y="383.31" width="8.76" height="7.69" fill="#00009f"/>
<rect x="637.15" y="383.31" width="17.22" height="7.69" fill="#0000a4"/>
<rect x="654.07" y="383.31" width="8.76" height="7.69" fill="#0000a8"/>
<rect x="662.53" y="383.31" width="17.22" height="7.69" fill="#0000ad"/>
<rect x="679.44" y="383.31" width="17.22" height="7.69" fill="#0000b2"/>
<rect x="696.36" y="383.31" width="17.64" height="7.69" fill="#0000b6"/>
</g>
<g clip-path="url(#ax)">
<path d="M235.1,109.9L245.0,109.9L244.0,112.1L235.9,112.1ZM239.0,114.1L248.9,114.6L247.9,117.1L240.0,117.1ZM128.7,132.8L132.1,127.2L140.5,124.9L147.6,123.2L155.7,124.0L162.5,124.9L174.3,126.1L184.4,126.2L196.2,125.1L206.4,126.2L214.8,127.2L230.0,128.8L243.5,129.1L250.3,127.9L253.7,122.9L260.4,127.1L267.2,127.9L273.9,126.2L268.9,131.3L265.5,134.7L260.4,136.4L253.3,140.6L253.3,144.3L257.0,147.3L263.8,148.5L273.4,150.6L277.3,156.6L279.0,151.6L282.4,144.0L280.7,138.4L290.8,138.9L295.9,144.8L302.6,141.8L309.4,149.0L316.1,155.8L317.8,156.6L311.1,158.8L304.3,159.2L300.1,159.2L294.2,161.7L303.5,161.2L302.6,164.2L304.3,165.9L311.1,165.1L306.0,168.1L300.9,170.1L300.1,167.6L297.6,168.8L294.2,170.1L293.3,173.0L290.8,174.0L287.4,175.2L285.7,178.6L284.1,181.1L284.9,184.2L281.5,185.3L279.0,187.0L275.6,190.4L275.1,192.9L276.5,196.3L277.3,201.0L275.3,200.9L274.3,198.8L272.7,196.3L270.5,192.9L266.3,192.3L262.1,192.6L261.8,194.6L258.7,194.1L253.7,193.6L248.3,196.7L247.8,201.4L247.2,206.4L248.6,209.0L250.3,211.5L252.8,212.9L257.9,212.4L259.6,208.1L264.6,207.3L264.1,212.4L263.5,216.6L267.2,216.7L270.5,216.9L271.6,218.3L271.1,225.0L274.8,228.4L278.1,227.6L281.5,228.9L284.9,225.9L289.1,224.5L291.7,222.7L292.2,225.9L294.2,224.2L299.3,225.7L307.7,225.9L311.1,229.2L316.1,233.5L324.6,235.2L328.0,240.6L331.3,245.3L338.1,247.8L345.7,248.7L353.0,252.9L353.3,258.8L349.1,263.9L346.5,272.3L344.0,279.1L339.8,282.4L331.3,287.5L330.5,291.7L328.0,293.4L322.9,299.3L320.4,302.4L317.0,302.4L313.6,301.5L316.1,304.4L315.3,308.6L307.7,309.5L302.6,312.8L304.3,316.2L299.3,321.3L300.9,324.7L295.9,330.6L296.7,333.1L300.9,336.5L294.2,336.8L287.4,332.3L285.7,324.7L288.3,314.5L288.3,306.1L291.7,299.3L292.0,290.9L293.3,282.4L293.7,274.5L285.7,268.9L282.4,263.9L278.1,256.3L275.1,251.5L277.3,247.0L276.5,243.6L279.3,241.1L281.5,236.8L281.9,231.8L279.8,229.2L276.5,230.9L272.2,229.2L267.7,226.7L264.6,221.6L258.7,220.0L253.7,216.6L249.4,217.1L243.5,215.2L234.2,209.8L234.7,206.8L230.0,201.4L223.3,194.6L218.7,190.1L221.6,194.6L222.4,198.0L226.6,203.1L227.5,204.8L223.3,201.4L219.9,196.3L217.4,192.9L214.7,188.7L212.3,186.2L208.7,185.2L205.5,180.3L203.0,175.2L202.2,171.0L203.0,165.4L201.8,161.9L204.7,160.9L197.1,157.8L192.9,151.6L187.8,147.3L183.6,144.0L176.0,142.6L169.2,142.3L165.0,140.6L159.1,143.1L156.6,141.4L152.3,144.0L147.3,146.5L138.8,150.7L134.6,151.7L142.2,149.0L146.4,144.8L138.8,144.6L133.8,141.4L134.6,137.2L140.5,134.7L132.1,134.7ZM289.1,111.9L300.9,107.7L311.1,105.1L336.4,104.3L358.4,102.6L375.2,104.3L392.1,106.0L382.0,113.6L378.6,120.3L375.2,125.4L368.5,127.9L358.4,128.8L348.2,132.7L344.9,134.7L339.8,142.3L331.3,140.6L328.0,135.5L324.6,132.1L322.9,126.2L319.5,122.9L314.5,116.1L300.9,115.3L290.8,112.7ZM371.9,133.0L375.2,131.5L382.0,131.8L387.9,132.1L389.6,133.8L387.1,135.0L380.8,136.5L375.2,135.9L371.9,134.2ZM277.3,119.1L289.1,122.9L297.6,124.9L299.3,128.8L307.7,131.0L304.3,133.8L301.8,137.2L297.6,138.1L290.8,134.7L280.7,135.0L287.4,130.5L290.8,127.9L280.7,125.4L265.5,124.5L262.1,119.5ZM248.9,106.0L259.9,105.0L274.9,104.5L290.0,104.5L296.0,108.0L284.9,110.9L270.0,112.1L252.0,112.1ZM251.0,114.1L265.0,115.1L274.9,118.0L268.0,119.5L255.0,118.6ZM212.0,122.2L225.0,120.2L241.0,124.2L235.9,128.4L221.9,128.9L214.0,126.1ZM200.0,121.0L207.1,118.0L215.0,119.0L213.0,123.0L203.0,123.0ZM206.0,116.1L215.0,113.6L234.1,113.1L232.0,116.1L215.0,117.6ZM240.0,119.0L251.0,119.5L249.9,123.0L241.0,123.0ZM267.2,135.5L275.6,135.5L267.2,133.0ZM312.3,163.2L318.7,156.5L322.9,160.0L323.4,164.2L317.8,164.6ZM268.9,206.6L277.3,204.6L284.9,208.1L287.1,209.7L281.5,210.0L275.6,207.0ZM286.8,210.2L296.9,211.5L296.7,212.7L291.7,213.9L286.8,212.7ZM402.8,159.0L407.3,158.2L414.8,157.1L415.3,154.6L412.7,153.4L409.9,150.7L409.0,149.0L409.4,146.5L407.3,144.6L404.0,144.6L401.9,147.7L403.1,149.9L404.3,151.1L407.0,152.4L407.3,153.6L404.8,154.4L403.6,156.3L406.5,156.6ZM395.5,156.5L402.3,155.4L402.3,152.4L403.1,150.4L398.6,150.4L395.5,152.4L395.2,154.1ZM431.0,109.3L446.2,107.8L458.0,108.5L449.6,111.5L439.4,114.2L434.4,112.2ZM500.2,123.2L505.3,120.3L508.7,116.4L517.1,114.4L527.2,113.6L522.2,116.1L508.7,120.3L503.6,124.2ZM574.5,111.0L581.3,106.8L588.0,110.2ZM643.8,116.9L648.8,114.4L665.7,116.9L652.2,119.0ZM652.2,165.9L654.7,165.1L653.9,160.9L655.6,160.3L653.9,155.8L653.0,151.9L651.7,154.1L652.2,159.2L651.9,164.2ZM648.8,172.7L651.4,171.8L654.7,172.7L658.1,170.5L652.2,166.9L649.7,170.6ZM633.5,186.2L640.4,187.0L642.9,185.3L647.1,185.0L650.2,183.3L650.5,178.6L652.2,176.9L651.4,173.9L648.8,174.7L648.5,177.7L646.3,180.1L643.4,180.8L641.2,183.7L637.0,183.7L633.6,185.2ZM631.1,187.0L635.0,187.0L633.6,191.3L631.9,190.4ZM615.0,204.8L617.6,200.9L618.4,202.2L616.4,206.4ZM595.8,211.2L599.0,209.7L599.8,210.3L597.3,212.9ZM615.9,212.4L618.8,212.5L619.3,215.7L617.9,219.1L621.8,222.5L620.1,221.6L616.1,219.6L614.7,216.6ZM618.4,230.1L623.5,227.2L626.0,231.8L624.3,234.0L621.0,230.9ZM618.4,224.2L624.8,224.2L623.5,226.7L619.3,227.1ZM596.3,241.6L597.3,245.3L598.5,248.7L605.8,249.5L609.1,247.8L608.3,241.9L611.3,241.9L613.4,234.6L610.0,231.8L608.3,233.1L603.2,238.2L599.8,240.2L597.5,240.1ZM573.2,234.3L577.0,234.8L581.8,239.7L587.7,245.3L591.4,249.2L591.1,253.4L588.9,253.1L584.3,248.7L581.3,244.4L579.1,240.7L574.5,237.4ZM590.1,255.1L591.4,253.6L595.3,254.1L599.8,254.6L602.7,255.3L605.9,256.6L605.6,258.3L599.8,257.4L594.8,256.8L590.6,255.8ZM614.0,252.9L615.9,252.9L616.7,247.8L620.1,251.2L618.1,245.3L620.6,245.0L623.5,241.1L615.9,241.9L614.2,245.0L613.4,248.7ZM633.6,245.8L638.7,245.1L643.8,246.1L650.5,248.0L658.4,251.7L661.5,254.6L662.3,257.1L666.0,261.3L660.6,260.5L659.0,257.1L654.7,258.8L653.0,259.3L650.5,259.0L647.1,257.3L645.4,255.8L645.1,252.6L640.4,250.9L636.5,250.4L635.0,248.3L637.0,247.3ZM608.3,257.6L613.4,258.0L620.1,257.6L626.9,257.6L623.5,259.6L616.7,260.5L611.7,259.1ZM604.9,280.8L605.2,287.5L606.6,294.3L606.6,301.0L611.7,302.7L616.7,300.7L621.8,299.2L625.2,298.1L630.2,297.0L634.5,296.8L638.7,298.8L641.6,302.4L645.1,298.5L645.4,303.7L648.8,307.4L654.7,309.1L659.5,309.6L662.3,307.4L665.7,306.6L666.0,303.5L667.9,300.3L670.8,295.9L671.6,290.9L670.8,286.7L667.1,283.3L664.0,279.9L659.5,275.7L657.9,271.3L657.8,268.6L654.9,267.2L653.0,261.7L651.7,265.6L651.4,271.5L650.0,273.2L647.6,272.8L643.4,270.5L641.2,268.6L643.4,264.2L640.4,264.0L636.5,263.0L633.6,264.2L631.9,265.6L631.1,268.1L628.6,268.9L626.5,267.2L623.8,268.3L621.0,272.3L618.8,274.0L616.7,276.7L613.4,277.4L609.6,278.4L605.8,280.4ZM656.8,312.3L662.8,312.7L662.3,316.2L660.3,317.2L657.8,314.9ZM704.0,301.7L707.1,304.4L709.4,306.8L713.8,307.3L712.8,309.8L711.0,311.1L707.6,313.5L707.2,310.8L705.9,309.8L707.2,306.1L704.5,302.7ZM703.9,312.0L706.7,313.7L705.4,316.2L701.5,318.7L697.8,322.3L693.6,321.3L696.8,317.9L701.2,314.9ZM547.3,229.8L548.0,227.1L550.7,230.9L549.5,233.1L547.7,233.3ZM495.7,263.9L497.7,269.8L496.0,273.2L494.3,278.2L491.9,285.6L488.7,286.7L486.2,283.5L485.5,279.9L487.4,275.7L486.7,272.3L490.9,270.3L493.5,266.4ZM402.9,182.8L399.9,180.8L397.4,181.1L396.4,178.1L397.7,173.5L396.7,171.0L398.9,169.8L405.6,170.3L409.9,170.3L410.4,165.9L408.2,163.7L404.5,162.5L409.9,161.4L414.9,159.2L417.5,157.5L420.0,155.8L420.8,153.8L426.8,152.9L427.1,149.9L426.2,147.3L430.1,146.2L430.1,149.9L429.3,151.6L432.7,152.1L436.0,152.6L442.8,151.1L447.9,150.7L447.9,147.3L452.9,146.8L452.9,143.5L463.1,142.3L458.0,141.4L451.2,142.3L448.7,140.6L448.7,136.4L455.5,133.8L451.2,132.5L447.9,134.7L443.6,137.2L441.1,140.6L444.1,143.1L440.3,147.3L439.1,148.9L434.4,150.0L434.0,148.2L431.3,144.8L429.3,144.0L422.5,145.7L420.8,142.3L420.8,138.9L426.8,136.4L432.7,133.0L436.9,129.1L441.1,127.1L446.2,125.4L456.0,123.5L464.7,125.4L468.1,126.6L481.6,129.6L479.9,132.1L471.5,134.7L474.9,135.9L479.9,134.7L486.7,132.1L486.7,127.9L496.8,128.8L503.6,127.9L510.3,127.4L513.7,126.2L523.9,126.7L527.2,124.5L530.6,120.3L534.8,120.7L535.7,127.9L538.2,128.4L539.1,125.4L542.4,122.0L547.5,120.3L550.9,122.9L554.3,126.2L557.6,125.4L557.6,119.5L564.4,116.9L572.8,115.3L588.0,112.4L598.2,115.3L603.2,118.6L610.0,119.8L615.0,120.3L626.9,119.5L631.9,122.4L640.4,122.9L657.3,121.7L674.1,123.7L682.6,125.4L699.5,125.7L713.0,126.2L719.7,127.9L724.8,129.6L733.8,132.1L726.5,134.7L719.7,133.8L714.7,138.1L706.2,139.2L699.5,142.3L689.3,142.4L687.7,146.5L686.8,149.0L682.6,154.1L677.0,157.5L675.8,154.1L675.0,147.3L669.1,144.0L662.3,143.5L652.2,143.6L644.6,151.6L650.5,155.8L648.8,161.7L640.4,170.1L635.3,171.0L633.1,172.2L631.1,175.2L628.6,178.6L631.1,183.7L626.0,185.3L625.2,181.1L623.5,176.9L618.4,175.2L617.6,177.7L611.3,177.7L613.7,180.8L619.3,181.1L615.9,183.7L615.0,186.2L616.7,189.6L618.4,192.9L615.0,198.8L610.0,203.9L603.2,206.1L598.2,208.1L594.8,207.3L592.2,209.0L591.1,211.5L596.1,218.3L597.0,223.3L593.9,225.9L589.7,228.9L589.4,225.9L586.3,225.0L584.6,222.5L582.8,220.8L581.3,222.5L579.9,225.9L582.1,231.8L587.2,236.0L587.0,241.2L583.8,239.4L581.8,235.2L578.4,230.1L578.7,225.9L577.9,221.6L577.4,216.6L572.0,216.1L571.1,211.5L568.3,208.1L566.1,205.6L561.8,206.8L559.3,208.1L559.1,209.8L555.9,211.0L551.4,214.9L548.0,217.4L547.7,221.6L547.3,226.2L544.8,228.4L543.3,229.9L541.6,227.6L538.7,222.0L536.2,214.9L535.3,210.7L535.0,206.1L531.5,208.5L528.4,204.4L525.5,201.7L517.1,201.0L509.5,200.2L507.5,197.8L503.6,198.7L498.2,194.6L494.3,192.9L493.5,194.6L496.8,198.8L499.4,201.4L501.1,202.7L507.5,199.4L507.8,202.2L511.7,203.9L513.4,205.6L510.0,211.5L505.3,214.6L500.2,216.9L494.3,220.0L488.4,222.0L485.9,222.2L484.7,218.3L483.3,211.5L478.6,207.3L476.6,203.1L471.8,196.3L471.3,193.8L467.5,193.1L469.0,198.0L472.3,203.2L475.2,210.5L479.1,217.3L485.4,224.0L487.5,226.0L499.0,223.7L498.5,226.0L495.1,233.5L493.1,236.5L490.1,240.2L483.3,245.3L480.8,247.8L478.8,252.0L479.1,257.1L480.8,261.3L480.8,268.9L474.9,273.2L471.3,277.0L472.3,283.3L468.1,287.2L467.3,291.9L464.7,294.1L460.0,298.8L455.8,301.0L450.4,300.8L446.2,302.4L443.6,301.4L443.1,297.6L440.3,291.9L438.1,289.2L436.9,281.6L432.3,272.8L435.7,262.2L434.7,258.8L433.2,253.7L428.6,247.8L428.1,242.8L428.4,237.4L426.8,236.0L422.5,236.3L420.0,233.0L415.8,233.0L410.7,235.2L409.0,235.7L405.6,234.8L399.7,236.2L396.4,234.0L393.0,231.9L390.1,228.7L387.6,225.4L384.2,222.5L382.8,218.8L384.5,210.7L383.9,207.3L387.9,199.7L390.4,196.8L395.9,193.1L395.9,189.6L400.9,186.2L402.4,183.1L409.0,184.3L414.1,182.0L417.5,181.5L426.9,181.3L429.8,180.8L431.0,181.5L429.6,185.3L431.3,187.5L438.1,189.2L445.3,192.4L447.9,188.4L454.6,189.9L461.4,191.6L465.6,190.4L466.9,190.9L470.3,190.7L472.3,187.0L473.2,183.1L473.5,181.8L470.7,181.5L467.3,182.6L463.9,182.1L459.7,181.6L457.2,178.9L456.6,176.1L452.9,174.7L451.2,175.5L452.6,179.4L450.9,182.0L449.0,181.5L447.9,178.9L446.5,176.7L445.3,173.5L443.6,171.8L438.6,169.3L435.5,166.6L433.2,167.1L433.5,169.3L436.0,171.8L439.4,173.7L443.6,175.9L440.3,177.7L439.4,179.4L438.7,178.9L439.4,176.9L437.7,175.7L432.7,173.0L430.1,171.0L427.3,168.6L425.1,169.6L420.8,170.5L417.8,171.0L417.8,172.8L413.8,174.4L411.9,176.9L412.7,178.1L411.0,180.1L408.7,181.6L404.8,181.8ZM459.7,174.0L459.7,170.1L463.1,166.8L465.6,164.9L469.0,168.5L474.0,167.1L476.6,164.2L479.1,164.2L476.6,168.5L482.5,173.5L474.9,174.4L469.0,172.7L463.1,174.0ZM91.5,125.7L105.1,126.2L111.8,127.9L116.9,129.6L125.8,132.1L118.6,134.7L111.8,133.8L106.7,138.1L98.3,139.2L91.5,142.3ZM98.3,375.7L108.4,375.3L140.0,375.0L159.1,372.8L176.0,370.3L200.0,367.9L243.5,367.7L277.3,366.9L287.9,362.5L297.6,357.6L306.0,353.4L316.0,351.0L311.1,355.1L309.4,361.8L311.1,370.3L328.0,374.8L334.0,375.0L353.3,374.5L366.8,369.4L380.0,366.0L395.5,363.5L412.4,361.8L439.9,360.0L463.1,361.0L479.9,359.3L503.9,355.1L522.2,357.6L530.6,358.4L534.0,361.3L540.1,358.9L564.4,355.9L599.8,355.1L631.9,355.6L648.8,356.2L672.0,358.9L686.0,362.7L700.0,365.0L688.0,371.9L704.0,374.0L719.7,376.0L726.5,376.3L726.5,404.0L98.3,404.0Z" fill="rgba(200,200,200,0.2)" fill-rule="evenodd" stroke="none"/>
<path d="M491.4,167.9L493.5,165.1L496.8,164.2L501.9,165.6L502.7,167.6L499.4,170.1L501.6,173.0L503.6,175.2L503.6,180.3L498.5,181.8L495.1,180.3L495.5,175.2L492.6,171.8L491.8,170.1Z" fill="rgba(200,200,230,0.35)" stroke="#000" stroke-width="0.6"/>
<path d="M235.1,109.9L245.0,109.9L244.0,112.1L235.9,112.1ZM239.0,114.1L248.9,114.6L247.9,117.1L240.0,117.1ZM128.7,132.8L132.1,127.2L140.5,124.9L147.6,123.2L155.7,124.0L162.5,124.9L174.3,126.1L184.4,126.2L196.2,125.1L206.4,126.2L214.8,127.2L230.0,128.8L243.5,129.1L250.3,127.9L253.7,122.9L260.4,127.1L267.2,127.9L273.9,126.2L268.9,131.3L265.5,134.7L260.4,136.4L253.3,140.6L253.3,144.3L257.0,147.3L263.8,148.5L273.4,150.6L277.3,156.6L279.0,151.6L282.4,144.0L280.7,138.4L290.8,138.9L295.9,144.8L302.6,141.8L309.4,149.0L316.1,155.8L317.8,156.6L311.1,158.8L304.3,159.2L300.1,159.2L294.2,161.7L303.5,161.2L302.6,164.2L304.3,165.9L311.1,165.1L306.0,168.1L300.9,170.1L300.1,167.6L297.6,168.8L294.2,170.1L293.3,173.0L290.8,174.0L287.4,175.2L285.7,178.6L284.1,181.1L284.9,184.2L281.5,185.3L279.0,187.0L275.6,190.4L275.1,192.9L276.5,196.3L277.3,201.0L275.3,200.9L274.3,198.8L272.7,196.3L270.5,192.9L266.3,192.3L262.1,192.6L261.8,194.6L258.7,194.1L253.7,193.6L248.3,196.7L247.8,201.4L247.2,206.4L248.6,209.0L250.3,211.5L252.8,212.9L257.9,212.4L259.6,208.1L264.6,207.3L264.1,212.4L263.5,216.6L267.2,216.7L270.5,216.9L271.6,218.3L271.1,225.0L274.8,228.4L278.1,227.6L281.5,228.9L284.9,225.9L289.1,224.5L291.7,222.7L292.2,225.9L294.2,224.2L299.3,225.7L307.7,225.9L311.1,229.2L316.1,233.5L324.6,235.2L328.0,240.6L331.3,245.3L338.1,247.8L345.7,248.7L353.0,252.9L353.3,258.8L349.1,263.9L346.5,272.3L344.0,279.1L339.8,282.4L331.3,287.5L330.5,291.7L328.0,293.4L322.9,299.3L320.4,302.4L317.0,302.4L313.6,301.5L316.1,304.4L315.3,308.6L307.7,309.5L302.6,312.8L304.3,316.2L299.3,321.3L300.9,324.7L295.9,330.6L296.7,333.1L300.9,336.5L294.2,336.8L287.4,332.3L285.7,324.7L288.3,314.5L288.3,306.1L291.7,299.3L292.0,290.9L293.3,282.4L293.7,274.5L285.7,268.9L282.4,263.9L278.1,256.3L275.1,251.5L277.3,247.0L276.5,243.6L279.3,241.1L281.5,236.8L281.9,231.8L279.8,229.2L276.5,230.9L272.2,229.2L267.7,226.7L264.6,221.6L258.7,220.0L253.7,216.6L249.4,217.1L243.5,215.2L234.2,209.8L234.7,206.8L230.0,201.4L223.3,194.6L218.7,190.1L221.6,194.6L222.4,198.0L226.6,203.1L227.5,204.8L223.3,201.4L219.9,196.3L217.4,192.9L214.7,188.7L212.3,186.2L208.7,185.2L205.5,180.3L203.0,175.2L202.2,171.0L203.0,165.4L201.8,161.9L204.7,160.9L197.1,157.8L192.9,151.6L187.8,147.3L183.6,144.0L176.0,142.6L169.2,142.3L165.0,140.6L159.1,143.1L156.6,141.4L152.3,144.0L147.3,146.5L138.8,150.7L134.6,151.7L142.2,149.0L146.4,144.8L138.8,144.6L133.8,141.4L134.6,137.2L140.5,134.7L132.1,134.7ZM289.1,111.9L300.9,107.7L311.1,105.1L336.4,104.3L358.4,102.6L375.2,104.3L392.1,106.0L382.0,113.6L378.6,120.3L375.2,125.4L368.5,127.9L358.4,128.8L348.2,132.7L344.9,134.7L339.8,142.3L331.3,140.6L328.0,135.5L324.6,132.1L322.9,126.2L319.5,122.9L314.5,116.1L300.9,115.3L290.8,112.7ZM371.9,133.0L375.2,131.5L382.0,131.8L387.9,132.1L389.6,133.8L387.1,135.0L380.8,136.5L375.2,135.9L371.9,134.2ZM277.3,119.1L289.1,122.9L297.6,124.9L299.3,128.8L307.7,131.0L304.3,133.8L301.8,137.2L297.6,138.1L290.8,134.7L280.7,135.0L287.4,130.5L290.8,127.9L280.7,125.4L265.5,124.5L262.1,119.5ZM248.9,106.0L259.9,105.0L274.9,104.5L290.0,104.5L296.0,108.0L284.9,110.9L270.0,112.1L252.0,112.1ZM251.0,114.1L265.0,115.1L274.9,118.0L268.0,119.5L255.0,118.6ZM212.0,122.2L225.0,120.2L241.0,124.2L235.9,128.4L221.9,128.9L214.0,126.1ZM200.0,121.0L207.1,118.0L215.0,119.0L213.0,123.0L203.0,123.0ZM206.0,116.1L215.0,113.6L234.1,113.1L232.0,116.1L215.0,117.6ZM240.0,119.0L251.0,119.5L249.9,123.0L241.0,123.0ZM267.2,135.5L275.6,135.5L267.2,133.0ZM312.3,163.2L318.7,156.5L322.9,160.0L323.4,164.2L317.8,164.6ZM268.9,206.6L277.3,204.6L284.9,208.1L287.1,209.7L281.5,210.0L275.6,207.0ZM286.8,210.2L296.9,211.5L296.7,212.7L291.7,213.9L286.8,212.7ZM402.8,159.0L407.3,158.2L414.8,157.1L415.3,154.6L412.7,153.4L409.9,150.7L409.0,149.0L409.4,146.5L407.3,144.6L404.0,144.6L401.9,147.7L403.1,149.9L404.3,151.1L407.0,152.4L407.3,153.6L404.8,154.4L403.6,156.3L406.5,156.6ZM395.5,156.5L402.3,155.4L402.3,152.4L403.1,150.4L398.6,150.4L395.5,152.4L395.2,154.1ZM431.0,109.3L446.2,107.8L458.0,108.5L449.6,111.5L439.4,114.2L434.4,112.2ZM500.2,123.2L505.3,120.3L508.7,116.4L517.1,114.4L527.2,113.6L522.2,116.1L508.7,120.3L503.6,124.2ZM574.5,111.0L581.3,106.8L588.0,110.2ZM643.8,116.9L648.8,114.4L665.7,116.9L652.2,119.0ZM652.2,165.9L654.7,165.1L653.9,160.9L655.6,160.3L653.9,155.8L653.0,151.9L651.7,154.1L652.2,159.2L651.9,164.2ZM648.8,172.7L651.4,171.8L654.7,172.7L658.1,170.5L652.2,166.9L649.7,170.6ZM633.5,186.2L640.4,187.0L642.9,185.3L647.1,185.0L650.2,183.3L650.5,178.6L652.2,176.9L651.4,173.9L648.8,174.7L648.5,177.7L646.3,180.1L643.4,180.8L641.2,183.7L637.0,183.7L633.6,185.2ZM631.1,187.0L635.0,187.0L633.6,191.3L631.9,190.4ZM615.0,204.8L617.6,200.9L618.4,202.2L616.4,206.4ZM595.8,211.2L599.0,209.7L599.8,210.3L597.3,212.9ZM615.9,212.4L618.8,212.5L619.3,215.7L617.9,219.1L621.8,222.5L620.1,221.6L616.1,219.6L614.7,216.6ZM618.4,230.1L623.5,227.2L626.0,231.8L624.3,234.0L621.0,230.9ZM618.4,224.2L624.8,224.2L623.5,226.7L619.3,227.1ZM596.3,241.6L597.3,245.3L598.5,248.7L605.8,249.5L609.1,247.8L608.3,241.9L611.3,241.9L613.4,234.6L610.0,231.8L608.3,233.1L603.2,238.2L599.8,240.2L597.5,240.1ZM573.2,234.3L577.0,234.8L581.8,239.7L587.7,245.3L591.4,249.2L591.1,253.4L588.9,253.1L584.3,248.7L581.3,244.4L579.1,240.7L574.5,237.4ZM590.1,255.1L591.4,253.6L595.3,254.1L599.8,254.6L602.7,255.3L605.9,256.6L605.6,258.3L599.8,257.4L594.8,256.8L590.6,255.8ZM614.0,252.9L615.9,252.9L616.7,247.8L620.1,251.2L618.1,245.3L620.6,245.0L623.5,241.1L615.9,241.9L614.2,245.0L613.4,248.7ZM633.6,245.8L638.7,245.1L643.8,246.1L650.5,248.0L658.4,251.7L661.5,254.6L662.3,257.1L666.0,261.3L660.6,260.5L659.0,257.1L654.7,258.8L653.0,259.3L650.5,259.0L647.1,257.3L645.4,255.8L645.1,252.6L640.4,250.9L636.5,250.4L635.0,248.3L637.0,247.3ZM608.3,257.6L613.4,258.0L620.1,257.6L626.9,257.6L623.5,259.6L616.7,260.5L611.7,259.1ZM604.9,280.8L605.2,287.5L606.6,294.3L606.6,301.0L611.7,302.7L616.7,300.7L621.8,299.2L625.2,298.1L630.2,297.0L634.5,296.8L638.7,298.8L641.6,302.4L645.1,298.5L645.4,303.7L648.8,307.4L654.7,309.1L659.5,309.6L662.3,307.4L665.7,306.6L666.0,303.5L667.9,300.3L670.8,295.9L671.6,290.9L670.8,286.7L667.1,283.3L664.0,279.9L659.5,275.7L657.9,271.3L657.8,268.6L654.9,267.2L653.0,261.7L651.7,265.6L651.4,271.5L650.0,273.2L647.6,272.8L643.4,270.5L641.2,268.6L643.4,264.2L640.4,264.0L636.5,263.0L633.6,264.2L631.9,265.6L631.1,268.1L628.6,268.9L626.5,267.2L623.8,268.3L621.0,272.3L618.8,274.0L616.7,276.7L613.4,277.4L609.6,278.4L605.8,280.4ZM656.8,312.3L662.8,312.7L662.3,316.2L660.3,317.2L657.8,314.9ZM704.0,301.7L707.1,304.4L709.4,306.8L713.8,307.3L712.8,309.8L711.0,311.1L707.6,313.5L707.2,310.8L705.9,309.8L707.2,306.1L704.5,302.7ZM703.9,312.0L706.7,313.7L705.4,316.2L701.5,318.7L697.8,322.3L693.6,321.3L696.8,317.9L701.2,314.9ZM547.3,229.8L548.0,227.1L550.7,230.9L549.5,233.1L547.7,233.3ZM495.7,263.9L497.7,269.8L496.0,273.2L494.3,278.2L491.9,285.6L488.7,286.7L486.2,283.5L485.5,279.9L487.4,275.7L486.7,272.3L490.9,270.3L493.5,266.4ZM402.9,182.8L399.9,180.8L397.4,181.1L396.4,178.1L397.7,173.5L396.7,171.0L398.9,169.8L405.6,170.3L409.9,170.3L410.4,165.9L408.2,163.7L404.5,162.5L409.9,161.4L414.9,159.2L417.5,157.5L420.0,155.8L420.8,153.8L426.8,152.9L427.1,149.9L426.2,147.3L430.1,146.2L430.1,149.9L429.3,151.6L432.7,152.1L436.0,152.6L442.8,151.1L447.9,150.7L447.9,147.3L452.9,146.8L452.9,143.5L463.1,142.3L458.0,141.4L451.2,142.3L448.7,140.6L448.7,136.4L455.5,133.8L451.2,132.5L447.9,134.7L443.6,137.2L441.1,140.6L444.1,143.1L440.3,147.3L439.1,148.9L434.4,150.0L434.0,148.2L431.3,144.8L429.3,144.0L422.5,145.7L420.8,142.3L420.8,138.9L426.8,136.4L432.7,133.0L436.9,129.1L441.1,127.1L446.2,125.4L456.0,123.5L464.7,125.4L468.1,126.6L481.6,129.6L479.9,132.1L471.5,134.7L474.9,135.9L479.9,134.7L486.7,132.1L486.7,127.9L496.8,128.8L503.6,127.9L510.3,127.4L513.7,126.2L523.9,126.7L527.2,124.5L530.6,120.3L534.8,120.7L535.7,127.9L538.2,128.4L539.1,125.4L542.4,122.0L547.5,120.3L550.9,122.9L554.3,126.2L557.6,125.4L557.6,119.5L564.4,116.9L572.8,115.3L588.0,112.4L598.2,115.3L603.2,118.6L610.0,119.8L615.0,120.3L626.9,119.5L631.9,122.4L640.4,122.9L657.3,121.7L674.1,123.7L682.6,125.4L699.5,125.7L713.0,126.2L719.7,127.9L724.8,129.6L733.8,132.1L726.5,134.7L719.7,133.8L714.7,138.1L706.2,139.2L699.5,142.3L689.3,142.4L687.7,146.5L686.8,149.0L682.6,154.1L677.0,157.5L675.8,154.1L675.0,147.3L669.1,144.0L662.3,143.5L652.2,143.6L644.6,151.6L650.5,155.8L648.8,161.7L640.4,170.1L635.3,171.0L633.1,172.2L631.1,175.2L628.6,178.6L631.1,183.7L626.0,185.3L625.2,181.1L623.5,176.9L618.4,175.2L617.6,177.7L611.3,177.7L613.7,180.8L619.3,181.1L615.9,183.7L615.0,186.2L616.7,189.6L618.4,192.9L615.0,198.8L610.0,203.9L603.2,206.1L598.2,208.1L594.8,207.3L592.2,209.0L591.1,211.5L596.1,218.3L597.0,223.3L593.9,225.9L589.7,228.9L589.4,225.9L586.3,225.0L584.6,222.5L582.8,220.8L581.3,222.5L579.9,225.9L582.1,231.8L587.2,236.0L587.0,241.2L583.8,239.4L581.8,235.2L578.4,230.1L578.7,225.9L577.9,221.6L577.4,216.6L572.0,216.1L571.1,211.5L568.3,208.1L566.1,205.6L561.8,206.8L559.3,208.1L559.1,209.8L555.9,211.0L551.4,214.9L548.0,217.4L547.7,221.6L547.3,226.2L544.8,228.4L543.3,229.9L541.6,227.6L538.7,222.0L536.2,214.9L535.3,210.7L535.0,206.1L531.5,208.5L528.4,204.4L525.5,201.7L517.1,201.0L509.5,200.2L507.5,197.8L503.6,198.7L498.2,194.6L494.3,192.9L493.5,194.6L496.8,198.8L499.4,201.4L501.1,202.7L507.5,199.4L507.8,202.2L511.7,203.9L513.4,205.6L510.0,211.5L505.3,214.6L500.2,216.9L494.3,220.0L488.4,222.0L485.9,222.2L484.7,218.3L483.3,211.5L478.6,207.3L476.6,203.1L471.8,196.3L471.3,193.8L467.5,193.1L469.0,198.0L472.3,203.2L475.2,210.5L479.1,217.3L485.4,224.0L487.5,226.0L499.0,223.7L498.5,226.0L495.1,233.5L493.1,236.5L490.1,240.2L483.3,245.3L480.8,247.8L478.8,252.0L479.1,257.1L480.8,261.3L480.8,268.9L474.9,273.2L471.3,277.0L472.3,283.3L468.1,287.2L467.3,291.9L464.7,294.1L460.0,298.8L455.8,301.0L450.4,300.8L446.2,302.4L443.6,301.4L443.1,297.6L440.3,291.9L438.1,289.2L436.9,281.6L432.3,272.8L435.7,262.2L434.7,258.8L433.2,253.7L428.6,247.8L428.1,242.8L428.4,237.4L426.8,236.0L422.5,236.3L420.0,233.0L415.8,233.0L410.7,235.2L409.0,235.7L405.6,234.8L399.7,236.2L396.4,234.0L393.0,231.9L390.1,228.7L387.6,225.4L384.2,222.5L382.8,218.8L384.5,210.7L383.9,207.3L387.9,199.7L390.4,196.8L395.9,193.1L395.9,189.6L400.9,186.2L402.4,183.1L409.0,184.3L414.1,182.0L417.5,181.5L426.9,181.3L429.8,180.8L431.0,181.5L429.6,185.3L431.3,187.5L438.1,189.2L445.3,192.4L447.9,188.4L454.6,189.9L461.4,191.6L465.6,190.4L466.9,190.9L470.3,190.7L472.3,187.0L473.2,183.1L473.5,181.8L470.7,181.5L467.3,182.6L463.9,182.1L459.7,181.6L457.2,178.9L456.6,176.1L452.9,174.7L451.2,175.5L452.6,179.4L450.9,182.0L449.0,181.5L447.9,178.9L446.5,176.7L445.3,173.5L443.6,171.8L438.6,169.3L435.5,166.6L433.2,167.1L433.5,169.3L436.0,171.8L439.4,173.7L443.6,175.9L440.3,177.7L439.4,179.4L438.7,178.9L439.4,176.9L437.7,175.7L432.7,173.0L430.1,171.0L427.3,168.6L425.1,169.6L420.8,170.5L417.8,171.0L417.8,172.8L413.8,174.4L411.9,176.9L412.7,178.1L411.0,180.1L408.7,181.6L404.8,181.8ZM459.7,174.0L459.7,170.1L463.1,166.8L465.6,164.9L469.0,168.5L474.0,167.1L476.6,164.2L479.1,164.2L476.6,168.5L482.5,173.5L474.9,174.4L469.0,172.7L463.1,174.0ZM91.5,125.7L105.1,126.2L111.8,127.9L116.9,129.6L125.8,132.1L118.6,134.7L111.8,133.8L106.7,138.1L98.3,139.2L91.5,142.3Z" fill="none" stroke="#000" stroke-width="0.9" stroke-linejoin="round"/>
<path d="M98.3,375.7L108.4,375.3L140.0,375.0L159.1,372.8L176.0,370.3L200.0,367.9L243.5,367.7L277.3,366.9L287.9,362.5L297.6,357.6L306.0,353.4L316.0,351.0L311.1,355.1L309.4,361.8L311.1,370.3L328.0,374.8L334.0,375.0L353.3,374.5L366.8,369.4L380.0,366.0L395.5,363.5L412.4,361.8L439.9,360.0L463.1,361.0L479.9,359.3L503.9,355.1L522.2,357.6L530.6,358.4L534.0,361.3L540.1,358.9L564.4,355.9L599.8,355.1L631.9,355.6L648.8,356.2L672.0,358.9L686.0,362.7L700.0,365.0L688.0,371.9L704.0,374.0L719.7,376.0L726.5,376.3" fill="none" stroke="#000" stroke-width="0.9"/>
<path d="M204.7,160.9L252.0,160.9L252.0,160.2L261.3,162.5L269.7,165.1L273.1,167.1L273.1,172.7L279.0,171.0L284.1,169.3L286.3,167.6L291.7,167.6L294.2,165.1L295.5,163.6L297.9,164.2L297.9,166.4L299.3,167.9M174.3,126.1L174.3,141.8L181.0,144.0L184.4,143.0L187.8,147.3L192.9,149.9M214.7,188.7L218.7,188.4L225.0,190.7L229.7,190.7L232.6,189.9L235.9,193.6L238.5,194.6L241.8,193.3L244.4,197.2L248.3,199.9M256.7,219.1L257.0,213.5L258.7,213.5L261.8,213.5L263.3,212.4M261.8,213.5L261.8,216.7L263.5,217.1M261.8,216.7L261.4,219.3L264.1,221.0M271.9,218.3L268.9,220.0L265.0,221.6M271.1,225.2L267.7,224.9M272.4,227.6L272.9,229.8M281.5,229.1L280.9,231.4M290.5,224.9L290.1,230.1L294.2,231.8L298.4,233.1L297.9,238.9L299.3,241.6M311.1,229.2L309.4,234.3L311.1,235.2L310.2,236.8M315.8,233.5L315.3,240.2M321.2,234.0L320.4,239.7M325.3,236.5L320.4,239.7L317.8,240.4L313.6,241.1L311.1,240.2L311.1,236.8L306.5,236.8L304.3,236.8L299.3,241.6L295.0,241.9L294.5,250.7L289.1,254.7L288.3,258.8L290.3,260.5L293.2,262.2L295.0,262.2L302.0,260.5L304.3,264.7L310.2,266.9L311.1,271.1L314.5,271.5L314.5,277.4L314.8,280.9L318.7,281.3L320.2,286.8L321.9,287.8L315.1,294.6L322.2,300.5M294.4,250.7L293.3,247.0L288.3,245.3L284.9,243.9L279.3,241.2M285.2,243.8L282.4,247.8L279.8,252.0L276.8,249.3M296.4,262.2L295.0,267.2L295.9,270.6L295.0,273.2L293.5,274.5M295.0,273.2L296.7,275.7L297.6,280.8L298.9,282.1L302.6,280.8L306.7,281.1L308.5,277.4L314.5,277.4M298.9,282.1L296.7,285.8L295.9,290.9L294.2,299.3L292.5,306.1L291.7,314.5L290.8,321.3L289.1,327.2L290.8,330.6L296.6,332.4L296.6,336.3M306.7,281.1L311.1,284.1L314.5,285.8L315.1,289.7L320.2,286.8M313.8,300.8L315.1,294.6M409.5,184.5L410.4,189.4L406.5,190.2L397.7,195.1L397.7,197.5M397.7,196.8L397.7,199.7L392.1,199.7L392.1,203.9L390.4,207.6L383.7,207.6M397.7,197.5L404.3,201.4L414.4,208.1L419.2,211.2L422.2,210.8L432.7,203.9M426.9,181.3L426.4,185.3L428.4,192.6L429.3,200.9L432.7,203.9M454.6,190.2L454.6,206.4L474.7,206.4M432.7,203.9L437.7,204.8L452.9,210.7L452.9,209.8L454.6,209.8L454.6,206.4M404.3,201.4L401.4,201.6L403.4,216.1L403.1,217.4L392.1,218.6L384.5,216.2M414.4,208.1L418.5,217.4L412.7,218.4L411.6,218.3L403.1,225.9L398.9,225.9L393.0,222.7L384.2,222.5M438.6,204.8L438.7,209.8L435.2,220.0M418.5,223.8L424.2,221.6L435.2,220.5M452.9,210.7L450.4,219.8L449.2,222.3L451.1,225.0L452.1,227.4L458.0,227.4L469.8,227.6M477.4,214.0L474.0,219.5L472.0,225.0L470.3,226.7L469.8,229.2L473.0,235.8M474.0,219.5L479.9,219.1L484.7,222.5M484.7,224.2L486.7,228.4L493.5,230.1L486.7,235.3L483.0,236.8M473.0,235.8L478.3,237.7L483.0,236.8L481.6,238.9L482.5,246.5M475.9,249.2L469.8,245.3L463.1,245.3L462.4,246.0L464.7,239.5L464.4,237.7L458.7,235.2L443.8,236.5L439.4,240.2L436.0,239.9L431.5,239.9L428.9,239.7M426.8,236.0L432.7,231.8L437.1,223.3L436.0,221.6M437.7,230.9L439.4,230.4L444.5,228.4L449.6,225.0L452.1,227.4M432.7,253.6L440.3,256.1L449.4,255.9L449.6,262.2L452.9,262.2L458.8,263.9L461.4,266.1L463.4,257.6L463.1,250.4L462.4,246.0M432.3,272.8L447.0,273.8L452.9,273.2L455.1,273.7L459.7,271.5L463.7,269.9L468.1,267.2L471.5,270.6L470.7,263.0L480.6,261.2M446.2,280.8L446.2,285.5L447.9,273.8M440.3,291.9L446.2,291.6L446.2,285.5L457.2,285.0L461.4,281.1L465.3,281.4L466.4,288.9M464.2,257.4L468.1,259.6L470.7,263.0M398.0,230.9L399.7,236.2M407.3,235.2L407.8,227.6L403.1,225.9M412.6,233.5L412.1,225.0M415.1,233.1L413.9,225.0M417.0,232.8L418.5,223.8M390.1,228.7L393.8,229.2L398.0,230.9M387.6,225.4L389.3,222.3M409.4,170.3L417.8,172.0M416.6,157.3L422.5,160.0L426.2,160.9L425.1,163.2L422.5,165.6L424.2,167.6L425.1,169.6M397.4,172.8L401.9,173.4L400.6,177.7L399.9,180.8M436.4,152.6L437.1,157.5L432.7,158.7L435.7,161.5L434.4,163.4L428.6,163.4L425.1,163.2M426.8,150.9L429.3,151.1M424.4,153.6L422.5,157.5L422.5,157.8L422.5,160.0M452.1,152.4L452.1,155.8L452.9,158.3L450.4,160.9L444.1,160.0L441.1,161.7L435.7,161.5M447.9,150.7L452.1,152.4M447.9,147.3L459.7,149.0L458.8,146.5L459.7,143.3M463.1,140.4L462.2,135.5L463.1,129.6L460.9,127.2L461.4,125.7M431.8,144.0L433.5,140.6L432.7,136.4L436.9,133.0L442.8,127.9L446.2,127.1L447.9,126.9L452.8,132.5M459.7,149.0L464.7,152.4L469.0,155.3L474.0,158.3L479.9,160.0L476.6,164.2M450.4,160.9L456.3,162.2L460.5,166.8L462.4,167.1M435.7,161.5L441.1,162.5L449.6,162.9L450.4,160.9M435.5,166.6L440.3,165.1L444.5,165.9L449.6,168.5L450.7,169.3L460.5,169.8M445.3,173.5L447.9,172.3L451.2,173.9L456.3,173.5L459.7,172.7M456.3,174.4L457.2,175.2M482.5,173.5L485.9,174.4L488.1,176.6L487.2,180.8L483.3,180.8L474.0,182.0L473.2,183.1M483.3,180.8L481.6,185.3L478.3,189.1L472.3,187.9M474.9,190.4L478.3,189.1L487.9,194.5L493.0,195.5M493.5,192.9L492.6,187.9L490.1,184.5L488.1,180.8M484.7,215.7L491.8,214.9L500.2,211.5L506.3,209.8L505.3,205.3L499.5,202.6M471.3,193.8L471.5,191.3L472.3,187.9M492.6,158.3L498.5,156.3L505.3,157.5L515.4,157.5L515.9,152.4L528.9,150.0L536.5,152.4L541.6,152.1L547.5,157.5L552.6,157.5L559.8,160.7M559.8,160.7L564.4,158.3L577.9,155.8L584.6,158.7L594.8,160.0L604.9,158.8L609.5,159.5L614.2,155.4L620.1,153.3L627.7,159.7L632.8,162.5L639.9,162.0L637.3,167.6L633.6,171.2L632.9,172.0M559.8,160.7L565.7,165.9L574.5,171.5L589.7,173.4L599.8,170.5L608.3,167.6L614.7,164.2L609.5,159.5M559.8,160.7L555.9,164.2L547.8,167.6L547.8,172.3L538.9,180.8M501.9,172.7L507.0,167.3L511.2,166.8L515.4,168.6L517.1,170.1L523.9,171.2L528.1,174.7L532.3,172.2L537.4,170.6L547.8,172.3M503.4,180.6L508.7,179.4L513.7,181.8L515.7,183.5L521.3,182.5L524.7,180.4L532.3,179.8L538.9,180.8M515.7,183.5L515.1,187.0L515.1,193.1L516.3,193.6L518.8,196.3L518.3,200.9M516.3,193.6L524.7,193.3L529.8,190.4L532.3,186.2L538.9,180.8M527.6,203.6L532.3,202.4L531.5,196.3L537.4,192.1L539.1,188.7L543.3,183.7M543.3,183.7L546.7,189.6L548.3,194.1L554.3,196.3L561.0,197.2L562.7,196.3L567.8,196.7L572.8,194.6L577.0,196.0M561.0,206.4L562.7,199.7L567.8,201.4L568.6,206.8M572.8,198.0L572.0,203.1L569.4,205.6M577.0,196.0L578.7,201.4L579.6,206.4L583.8,207.8L584.6,205.6L591.4,205.3L594.8,207.3M581.3,209.3L578.7,215.7L580.1,225.9M581.3,209.3L583.8,214.0L589.7,216.6L590.6,219.1L585.5,223.3M584.6,205.6L588.0,209.8L593.1,218.3L590.6,219.1M590.6,219.1L593.9,223.3L589.7,225.9M581.8,232.6L584.6,233.5M622.6,176.1L628.6,172.7L632.9,172.0M623.5,179.4L628.6,178.9M650.5,248.0L650.5,259.0M597.5,240.1L603.2,241.9L606.6,237.7L610.0,236.5" fill="none" stroke="#000" stroke-width="0.8" stroke-linejoin="round"/>
<path d="M257.0,164.7L263.8,161.0L269.7,164.4L267.2,165.1L262.1,164.6ZM263.8,173.2L264.1,169.3L267.2,166.3L268.0,169.3L266.3,172.7ZM269.7,166.1L277.3,168.5L274.8,170.5L273.1,171.0L271.4,167.6ZM271.4,173.2L279.0,171.2L275.1,171.8ZM277.6,170.5L283.7,170.1L281.5,169.3ZM465.6,243.1L469.8,243.6L469.8,247.7L466.4,248.7L465.6,246.1ZM587.5,156.6L591.4,154.9L597.3,149.9L595.6,152.4L592.2,155.3ZM510.7,165.1L515.4,166.3L513.7,169.3L511.2,168.5ZM199.6,133.0L213.1,132.1L209.8,134.2ZM216.5,138.1L228.3,138.1L223.3,139.7Z" fill="rgba(200,200,200,0.2)" stroke="#000" stroke-width="0.6"/>
</g>
<rect x="100.5" y="97.5" width="620" height="299" fill="none" stroke="#000" stroke-width="1.1"/>
<g font-size="19.4"><text x="122.80" y="89.8" textLength="156.45" lengthAdjust="spacingAndGlyphs">Nequick-Galileo</text><text x="281.70" y="89.8" textLength="58.55" lengthAdjust="spacingAndGlyphs">VTEC</text><text x="345.75" y="89.8" textLength="6.75" lengthAdjust="spacingAndGlyphs">:</text><text x="358.50" y="89.8" textLength="24.50" lengthAdjust="spacingAndGlyphs">22</text><text x="390.75" y="89.8" textLength="46.25" lengthAdjust="spacingAndGlyphs">Hour</text><text x="444.75" y="89.8" textLength="18.50" lengthAdjust="spacingAndGlyphs">of</text><text x="471.00" y="89.8" textLength="36.50" lengthAdjust="spacingAndGlyphs">181</text><text x="516.00" y="89.8" textLength="42.50" lengthAdjust="spacingAndGlyphs">DOY</text><text x="565.50" y="89.8" textLength="130.60" lengthAdjust="spacingAndGlyphs">[2019/06/30]</text></g>
<rect x="100.5" y="468.5" width="620" height="31" fill="url(#jet)" stroke="#000" stroke-width="1.2"/>
<line x1="166.17" y1="499" x2="166.17" y2="493" stroke="#000" stroke-width="0.8"/><line x1="232.09" y1="499" x2="232.09" y2="493" stroke="#000" stroke-width="0.8"/><line x1="298.01" y1="499" x2="298.01" y2="493" stroke="#000" stroke-width="0.8"/><line x1="363.93" y1="499" x2="363.93" y2="493" stroke="#000" stroke-width="0.8"/><line x1="429.85" y1="499" x2="429.85" y2="493" stroke="#000" stroke-width="0.8"/><line x1="495.77" y1="499" x2="495.77" y2="493" stroke="#000" stroke-width="0.8"/><line x1="561.69" y1="499" x2="561.69" y2="493" stroke="#000" stroke-width="0.8"/><line x1="627.61" y1="499" x2="627.61" y2="493" stroke="#000" stroke-width="0.8"/><line x1="693.53" y1="499" x2="693.53" y2="493" stroke="#000" stroke-width="0.8"/>
<g font-size="17"><text x="165.47" y="519" text-anchor="middle" textLength="25.2" lengthAdjust="spacingAndGlyphs">0.4</text><text x="231.39" y="519" text-anchor="middle" textLength="25.2" lengthAdjust="spacingAndGlyphs">0.8</text><text x="297.31" y="519" text-anchor="middle" textLength="25.2" lengthAdjust="spacingAndGlyphs">1.2</text><text x="363.23" y="519" text-anchor="middle" textLength="25.2" lengthAdjust="spacingAndGlyphs">1.6</text><text x="429.15" y="519" text-anchor="middle" textLength="25.2" lengthAdjust="spacingAndGlyphs">2.0</text><text x="495.07" y="519" text-anchor="middle" textLength="25.2" lengthAdjust="spacingAndGlyphs">2.4</text><text x="560.99" y="519" text-anchor="middle" textLength="25.2" lengthAdjust="spacingAndGlyphs">2.8</text><text x="626.91" y="519" text-anchor="middle" textLength="25.2" lengthAdjust="spacingAndGlyphs">3.2</text><text x="692.83" y="519" text-anchor="middle" textLength="25.2" lengthAdjust="spacingAndGlyphs">3.6</text></g>
<text x="409.3" y="544" font-size="17" text-anchor="middle" textLength="43.3" lengthAdjust="spacingAndGlyphs">VTEC</text>
<text x="719.8" y="541" font-size="17" text-anchor="end" textLength="40.2" lengthAdjust="spacingAndGlyphs">1e17</text>
</svg></div>
</body></html>
